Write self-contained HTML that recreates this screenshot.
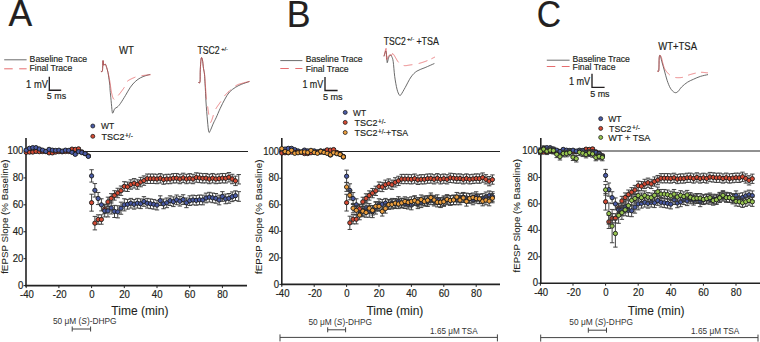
<!DOCTYPE html><html><head><meta charset="utf-8"><style>html,body{margin:0;padding:0;background:#fff;width:760px;height:342px;overflow:hidden}svg{display:block}text{font-family:"Liberation Sans",sans-serif;fill:#231f20;stroke:#231f20;stroke-width:0.18px}.tk{font-size:10.4px}</style></head><body>
<svg width="760" height="342" viewBox="0 0 760 342">
<text x="8.5" y="25.5" font-size="36" text-anchor="start" textLength="23.7" lengthAdjust="spacingAndGlyphs">A</text>
<text x="286.8" y="26.6" font-size="36" text-anchor="start" textLength="23.8" lengthAdjust="spacingAndGlyphs">B</text>
<text x="536.8" y="26.9" font-size="36" text-anchor="start" textLength="24.3" lengthAdjust="spacingAndGlyphs">C</text>
<line x1="4.2" y1="59.8" x2="26.6" y2="59.8" stroke="#454545" stroke-width="0.8"/>
<line x1="4.2" y1="68.8" x2="26.6" y2="68.8" stroke="#e0474a" stroke-width="0.8" stroke-dasharray="8.5 6.5"/>
<text x="29.6" y="61.5" font-size="9.8" text-anchor="start" textLength="57.5" lengthAdjust="spacingAndGlyphs">Baseline Trace</text>
<text x="29.6" y="70.7" font-size="9.8" text-anchor="start" textLength="42.6" lengthAdjust="spacingAndGlyphs">Final Trace</text>
<text x="26.1" y="87.8" font-size="10.2" text-anchor="start" textLength="21.8" lengthAdjust="spacingAndGlyphs">1 mV</text>
<path d="M49.3 76.8V90.2H61.2" stroke="#231f20" stroke-width="1.35" fill="none"/>
<text x="46.8" y="99.2" font-size="9.8" text-anchor="start" textLength="19.3" lengthAdjust="spacingAndGlyphs">5 ms</text>
<line x1="280.3" y1="60.6" x2="302.4" y2="60.6" stroke="#454545" stroke-width="0.8"/>
<line x1="280.3" y1="68.5" x2="302.4" y2="68.5" stroke="#e0474a" stroke-width="0.8" stroke-dasharray="8.5 6.5"/>
<text x="305.7" y="61.9" font-size="9.8" text-anchor="start" textLength="56.9" lengthAdjust="spacingAndGlyphs">Baseline Trace</text>
<text x="305.7" y="71.6" font-size="9.8" text-anchor="start" textLength="43" lengthAdjust="spacingAndGlyphs">Final Trace</text>
<text x="302.4" y="87.7" font-size="10.2" text-anchor="start" textLength="20.9" lengthAdjust="spacingAndGlyphs">1 mV</text>
<path d="M325 77V90.5H337.6" stroke="#231f20" stroke-width="1.35" fill="none"/>
<text x="322.9" y="99.8" font-size="9.8" text-anchor="start" textLength="19.7" lengthAdjust="spacingAndGlyphs">5 ms</text>
<line x1="546.8" y1="60.2" x2="569.6" y2="60.2" stroke="#454545" stroke-width="0.8"/>
<line x1="546.8" y1="66.5" x2="569.6" y2="66.5" stroke="#e0474a" stroke-width="0.8" stroke-dasharray="8.5 6.5"/>
<text x="572.6" y="61.7" font-size="9.8" text-anchor="start" textLength="57.3" lengthAdjust="spacingAndGlyphs">Baseline Trace</text>
<text x="572.6" y="70" font-size="9.8" text-anchor="start" textLength="42.9" lengthAdjust="spacingAndGlyphs">Final Trace</text>
<text x="568.9" y="84.8" font-size="10.2" text-anchor="start" textLength="21.3" lengthAdjust="spacingAndGlyphs">1 mV</text>
<path d="M592 73.8V87.3H604.6" stroke="#231f20" stroke-width="1.35" fill="none"/>
<text x="590.2" y="96.9" font-size="9.8" text-anchor="start" textLength="19.4" lengthAdjust="spacingAndGlyphs">5 ms</text>
<text x="119" y="54" font-size="10.4" text-anchor="start" textLength="14.9" lengthAdjust="spacingAndGlyphs">WT</text>
<text x="197.5" y="53.8" font-size="10.4" text-anchor="start" textLength="22.2" lengthAdjust="spacingAndGlyphs">TSC2</text>
<text x="221.3" y="50.5" font-size="5.5" text-anchor="start" textLength="6.7" lengthAdjust="spacingAndGlyphs">+/-</text>
<text x="383.8" y="44.7" font-size="10.4" text-anchor="start" textLength="21.9" lengthAdjust="spacingAndGlyphs">TSC2</text>
<text x="407" y="41.1" font-size="5.5" text-anchor="start" textLength="7.2" lengthAdjust="spacingAndGlyphs">+/-</text>
<text x="416.4" y="44.7" font-size="10.4" text-anchor="start" textLength="22.6" lengthAdjust="spacingAndGlyphs">+TSA</text>
<text x="658.3" y="49.5" font-size="10.4" text-anchor="start" textLength="38.7" lengthAdjust="spacingAndGlyphs">WT+TSA</text>
<path d="M100.90 71.20C101.15 71.13 102.05 72.55 102.40 70.80C102.75 69.05 102.80 61.65 103.00 60.70C103.20 59.75 103.22 64.52 103.60 65.10C103.98 65.68 104.80 63.83 105.30 64.20C105.80 64.57 106.15 65.92 106.60 67.30C107.05 68.68 107.63 70.75 108.00 72.50C108.37 74.25 108.52 75.88 108.80 77.80C109.08 79.72 109.48 81.93 109.70 84.00C109.92 86.07 109.87 87.45 110.10 90.20C110.33 92.95 110.75 96.92 111.10 100.50C111.45 104.08 111.88 109.65 112.20 111.70C112.52 113.75 112.58 113.30 113.00 112.80C113.42 112.30 113.98 109.65 114.70 108.70C115.42 107.75 116.35 107.97 117.30 107.10C118.25 106.23 119.03 105.45 120.40 103.50C121.77 101.55 123.83 98.12 125.50 95.40C127.17 92.68 128.75 89.53 130.40 87.20C132.05 84.87 133.72 82.97 135.40 81.40C137.08 79.83 138.80 78.75 140.50 77.80C142.20 76.85 143.98 76.27 145.60 75.70C147.22 75.13 149.43 74.62 150.20 74.40" stroke="#454545" stroke-width="0.8" fill="none"/>
<path d="M100.90 71.20 L100.93 71.20 L100.98 71.21 L101.02 71.24 L101.07 71.27 L101.13 71.31 L101.19 71.36 L101.25 71.40 L101.32 71.46 L101.39 71.51 L101.46 71.55 L101.54 71.60 L101.61 71.63 L101.69 71.66 L101.76 71.67 L101.84 71.68 L101.91 71.67 L101.98 71.64 L102.05 71.59 L102.12 71.52 L102.18 71.43 L102.25 71.32 L102.30 71.17 L102.35 71.00 L102.40 70.80 L102.44 70.55 L102.48 70.25 L102.52 69.90 L102.55 69.51 L102.58 69.08 L102.61 68.62 L102.64 68.13 L102.67 67.61 L102.69 67.09 L102.71 66.55 L102.74 66.00 L102.76 65.45 L102.78 64.91 L102.80 64.37 L102.81 63.85 L102.83 63.35 L102.85 62.88 L102.87 62.43 L102.89 62.02 L102.91 61.66 L102.93 61.33 L102.95 61.06 L102.98 60.85 L103.00 60.70 L103.02 60.61 L103.05 60.58 L103.07 60.59 L103.09 60.66 L103.11 60.76 L103.12 60.90 L103.14 61.08 L103.16 61.29 L103.18 61.52 L103.19 61.77 L103.21 62.04 L103.23 62.33 L103.25 62.61 L103.27 62.91 L103.29 63.20 L103.32 63.49 L103.34 63.77 L103.37 64.03 L103.40 64.28 L103.44 64.51 L103.47 64.70 L103.51 64.87 L103.55 65.01 L103.60 65.10 L103.65 65.16 L103.70 65.20 L103.76 65.21 L103.82 65.21 L103.89 65.19 L103.96 65.15 L104.03 65.10 L104.10 65.04 L104.17 64.97 L104.25 64.90 L104.33 64.82 L104.41 64.73 L104.49 64.65 L104.56 64.56 L104.64 64.48 L104.72 64.40 L104.80 64.33 L104.88 64.27 L104.95 64.22 L105.03 64.18 L105.10 64.16 L105.17 64.15 L105.24 64.17 L105.30 64.20 L105.36 64.25 L105.42 64.31 L105.48 64.38 L105.54 64.46 L105.60 64.55 L105.65 64.64 L105.71 64.75 L105.76 64.86 L105.81 64.98 L105.86 65.10 L105.92 65.23 L105.97 65.37 L106.02 65.51 L106.07 65.66 L106.12 65.81 L106.17 65.96 L106.23 66.12 L106.28 66.28 L106.33 66.45 L106.38 66.62 L106.44 66.78 L106.49 66.96 L106.54 67.13 L106.60 67.30 L106.66 67.47 L106.71 67.65 L106.77 67.83 L106.83 68.02 L106.88 68.21 L106.94 68.40 L106.99 68.59 L107.05 68.79 L107.11 69.00 L107.17 69.20 L107.22 69.41 L107.28 69.62 L107.34 69.84 L107.40 70.06 L107.46 70.29 L107.51 70.52 L107.57 70.75 L107.63 70.99 L107.69 71.23 L107.75 71.48 L107.81 71.73 L107.88 71.98 L107.94 72.24 L108.00 72.50 L108.06 72.76 L108.12 73.03 L108.19 73.29 L108.25 73.55 L108.31 73.81 L108.37 74.08 L108.44 74.34 L108.50 74.61 L108.56 74.89 L108.63 75.17 L108.69 75.45 L108.76 75.74 L108.82 76.04 L108.89 76.35 L108.95 76.66 L109.02 76.99 L109.09 77.32 L109.16 77.66 L109.23 78.02 L109.30 78.39 L109.37 78.77 L109.45 79.16 L109.52 79.57 L109.60 80.00 L109.68 80.45 L109.76 80.93 L109.84 81.43 L109.92 81.96 L110.00 82.52 L110.08 83.09 L110.16 83.67 L110.25 84.27 L110.33 84.88 L110.42 85.50 L110.51 86.12 L110.59 86.74 L110.68 87.36 L110.77 87.98 L110.86 88.58 L110.95 89.19 L111.04 89.77 L111.14 90.35 L111.23 90.90 L111.32 91.43 L111.41 91.94 L111.51 92.43 L111.60 92.88 L111.70 93.30 L111.80 93.70 L111.89 94.09 L111.98 94.48 L112.08 94.85 L112.17 95.21 L112.26 95.57 L112.35 95.91 L112.44 96.24 L112.54 96.56 L112.63 96.86 L112.73 97.15 L112.83 97.43 L112.92 97.69 L113.02 97.94 L113.13 98.17 L113.23 98.38 L113.34 98.58 L113.45 98.75 L113.57 98.91 L113.69 99.05 L113.81 99.17 L113.93 99.27 L114.06 99.35 L114.20 99.40M118.30 95.40 L118.52 95.14 L118.75 94.86 L118.99 94.56 L119.24 94.25 L119.50 93.92 L119.76 93.59 L120.03 93.24 L120.31 92.89 L120.59 92.53 L120.87 92.16 L121.15 91.79 L121.43 91.41 L121.71 91.04 L121.99 90.66 L122.27 90.28 L122.54 89.91 L122.80 89.54 L123.06 89.18 L123.31 88.82 L123.55 88.48 L123.78 88.14 L124.00 87.81 L124.21 87.50 L124.40 87.20M127.20 81.40 L127.44 81.19 L127.70 80.98 L127.98 80.77 L128.28 80.56 L128.59 80.36 L128.92 80.15 L129.26 79.95 L129.61 79.75 L129.97 79.55 L130.34 79.36 L130.71 79.16 L131.09 78.98 L131.48 78.79 L131.86 78.61 L132.24 78.43 L132.62 78.26 L133.00 78.10 L133.37 77.94 L133.74 77.78 L134.09 77.63 L134.44 77.49 L134.77 77.35 L135.09 77.22 L135.40 77.10M141.50 75.70 L141.83 75.65 L142.19 75.60 L142.56 75.55 L142.96 75.50 L143.37 75.45 L143.80 75.40 L144.23 75.35 L144.68 75.30 L145.13 75.25 L145.58 75.20 L146.03 75.16 L146.48 75.11 L146.93 75.07 L147.36 75.03 L147.79 74.98 L148.20 74.94 L148.60 74.91 L148.97 74.87 L149.33 74.84 L149.66 74.80 L149.97 74.77 L150.25 74.75 L150.49 74.72 L150.70 74.70" stroke="#e0474a" stroke-width="0.8" fill="none" stroke-linejoin="round" opacity="0.85"/>
<path d="M198.30 82.40C198.58 82.30 199.67 83.95 200.00 81.80C200.33 79.65 200.10 73.40 200.30 69.50C200.50 65.60 200.85 60.05 201.20 58.40C201.55 56.75 202.02 57.93 202.40 59.60C202.78 61.27 203.15 65.97 203.50 68.40C203.85 70.83 204.25 71.67 204.50 74.20C204.75 76.73 204.83 80.72 205.00 83.60C205.17 86.48 205.33 88.43 205.50 91.50C205.67 94.57 205.67 97.08 206.00 102.00C206.33 106.92 207.03 116.03 207.50 121.00C207.97 125.97 208.33 130.20 208.80 131.80C209.27 133.40 209.52 132.07 210.30 130.60C211.08 129.13 212.53 125.13 213.50 123.00C214.47 120.87 214.98 120.23 216.10 117.80C217.22 115.37 218.73 111.52 220.20 108.40C221.67 105.28 223.35 101.83 224.90 99.10C226.45 96.37 227.75 93.95 229.50 92.00C231.25 90.05 233.45 88.67 235.40 87.40C237.35 86.13 238.87 85.38 241.20 84.40C243.53 83.42 248.03 81.98 249.40 81.50" stroke="#454545" stroke-width="0.8" fill="none"/>
<path d="M198.30 82.40 L198.34 82.40 L198.39 82.41 L198.44 82.43 L198.50 82.47 L198.57 82.52 L198.64 82.57 L198.71 82.62 L198.79 82.68 L198.87 82.73 L198.96 82.78 L199.04 82.83 L199.13 82.87 L199.22 82.90 L199.30 82.91 L199.39 82.91 L199.47 82.89 L199.56 82.85 L199.63 82.79 L199.71 82.70 L199.78 82.58 L199.84 82.44 L199.90 82.26 L199.95 82.05 L200.00 81.80 L200.04 81.51 L200.07 81.18 L200.10 80.81 L200.12 80.41 L200.14 79.98 L200.16 79.52 L200.17 79.03 L200.18 78.52 L200.19 77.99 L200.19 77.44 L200.20 76.88 L200.20 76.31 L200.20 75.72 L200.20 75.13 L200.21 74.54 L200.21 73.94 L200.21 73.35 L200.22 72.76 L200.22 72.19 L200.23 71.62 L200.24 71.06 L200.26 70.52 L200.28 70.00 L200.30 69.50 L200.33 69.00 L200.35 68.49 L200.38 67.97 L200.41 67.44 L200.44 66.90 L200.48 66.35 L200.51 65.80 L200.54 65.26 L200.58 64.71 L200.62 64.17 L200.66 63.63 L200.69 63.11 L200.73 62.59 L200.77 62.09 L200.81 61.61 L200.86 61.14 L200.90 60.70 L200.94 60.28 L200.98 59.89 L201.03 59.52 L201.07 59.19 L201.11 58.89 L201.16 58.63 L201.20 58.40 L201.24 58.21 L201.29 58.05 L201.34 57.91 L201.38 57.80 L201.43 57.72 L201.48 57.66 L201.53 57.62 L201.58 57.61 L201.63 57.62 L201.68 57.64 L201.74 57.69 L201.79 57.76 L201.84 57.84 L201.89 57.94 L201.94 58.05 L202.00 58.18 L202.05 58.32 L202.10 58.48 L202.15 58.64 L202.20 58.82 L202.25 59.00 L202.30 59.19 L202.35 59.39 L202.40 59.60 L202.45 59.82 L202.50 60.08 L202.54 60.36 L202.59 60.66 L202.64 60.99 L202.68 61.34 L202.73 61.70 L202.78 62.08 L202.82 62.48 L202.87 62.88 L202.92 63.29 L202.96 63.71 L203.01 64.14 L203.05 64.56 L203.10 64.99 L203.14 65.41 L203.19 65.82 L203.23 66.23 L203.28 66.63 L203.32 67.02 L203.37 67.39 L203.41 67.75 L203.46 68.08 L203.50 68.40 L203.54 68.70 L203.59 68.98 L203.63 69.24 L203.67 69.50 L203.72 69.74 L203.76 69.98 L203.81 70.20 L203.85 70.42 L203.89 70.64 L203.93 70.85 L203.98 71.06 L204.02 71.26 L204.06 71.47 L204.10 71.68 L204.14 71.89 L204.19 72.11 L204.23 72.34 L204.27 72.57 L204.31 72.81 L204.35 73.06 L204.39 73.32 L204.42 73.60 L204.46 73.89 L204.50 74.20 L204.54 74.52 L204.57 74.84 L204.61 75.16 L204.64 75.48 L204.67 75.81 L204.71 76.15 L204.74 76.49 L204.77 76.83 L204.80 77.18 L204.83 77.54 L204.86 77.90 L204.89 78.27 L204.92 78.66 L204.96 79.05 L204.99 79.45 L205.02 79.86 L205.05 80.28 L205.08 80.72 L205.12 81.16 L205.15 81.62 L205.19 82.09 L205.22 82.58 L205.26 83.08 L205.30 83.60 L205.34 84.14 L205.38 84.72 L205.42 85.33 L205.46 85.96 L205.51 86.63 L205.55 87.31 L205.60 88.01 L205.64 88.72 L205.69 89.44 L205.73 90.18 L205.78 90.91 L205.83 91.65 L205.87 92.39 L205.92 93.12 L205.97 93.84 L206.01 94.55 L206.06 95.24 L206.11 95.92 L206.16 96.57 L206.21 97.20 L206.26 97.80 L206.30 98.37 L206.35 98.90 L206.40 99.40M207.60 106.40 L207.65 106.72 L207.70 107.04 L207.75 107.37 L207.80 107.70 L207.84 108.04 L207.89 108.38 L207.94 108.72 L207.99 109.07 L208.04 109.41 L208.08 109.76 L208.13 110.11 L208.18 110.46 L208.23 110.81 L208.28 111.17 L208.33 111.52 L208.38 111.87 L208.43 112.22 L208.48 112.56 L208.53 112.91 L208.58 113.25 L208.64 113.60 L208.69 113.93 L208.74 114.27 L208.80 114.60M210.30 122.20 L210.37 122.29 L210.43 122.36 L210.49 122.40 L210.55 122.42 L210.62 122.43 L210.68 122.41 L210.74 122.37 L210.80 122.31 L210.86 122.24 L210.92 122.15 L210.98 122.04 L211.04 121.92 L211.11 121.78 L211.18 121.63 L211.24 121.46 L211.31 121.29 L211.39 121.10 L211.46 120.89 L211.54 120.68 L211.63 120.46 L211.71 120.23 L211.81 120.00 L211.90 119.75 L212.00 119.50 L212.10 119.23 L212.21 118.94 L212.31 118.63 L212.42 118.29 L212.53 117.94 L212.65 117.57 L212.76 117.18 L212.88 116.78 L213.00 116.37 L213.12 115.95 L213.25 115.52 L213.38 115.08M215.77 108.91 L215.98 108.55 L216.20 108.19 L216.42 107.84 L216.65 107.48 L216.88 107.13 L217.11 106.78 L217.35 106.43 L217.59 106.09 L217.83 105.75 L218.07 105.41 L218.31 105.08 L218.55 104.75 L218.79 104.43 L219.02 104.11 L219.25 103.79 L219.48 103.48 L219.70 103.17 L219.91 102.87 L220.11 102.57 L220.31 102.28 L220.50 102.00 L220.68 101.72 L220.85 101.45M224.36 96.06 L224.54 95.84 L224.72 95.62 L224.90 95.41 L225.09 95.20 L225.28 94.98 L225.47 94.77 L225.66 94.56 L225.86 94.35 L226.05 94.14 L226.26 93.92 L226.46 93.71 L226.67 93.50 L226.88 93.29 L227.10 93.07 L227.32 92.86 L227.55 92.64 L227.78 92.42 L228.01 92.20 L228.25 91.98 L228.49 91.76 L228.74 91.53 L229.00 91.30 L229.26 91.06 L229.54 90.82 L229.82 90.57 L230.11 90.31 L230.41 90.05 L230.71 89.79M235.21 86.18 L235.52 85.97 L235.82 85.76 L236.11 85.58 L236.40 85.40 L236.68 85.24 L236.95 85.09 L237.22 84.95 L237.48 84.81 L237.74 84.69 L237.99 84.58 L238.24 84.48 L238.49 84.38 L238.74 84.29 L238.98 84.20 L239.23 84.12 L239.47 84.04 L239.71 83.97 L239.95 83.90 L240.20 83.83 L240.44 83.77 L240.69 83.70 L240.94 83.64 L241.19 83.57 L241.44 83.50 L241.70 83.43 L241.96 83.36 L242.23 83.28 L242.50 83.20 L242.78 83.12 L243.08 83.03 L243.39 82.94 L243.71 82.86 L244.04 82.77 L244.37 82.68 L244.71 82.59 L245.06 82.50 L245.40 82.42 L245.75 82.33 L246.09 82.25 L246.43 82.16 L246.77 82.08 L247.09 82.00 L247.41 81.93 L247.72 81.85 L248.02 81.78 L248.30 81.71 L248.57 81.65 L248.82 81.59 L249.05 81.54 L249.25 81.49 L249.44 81.44 L249.60 81.40" stroke="#e0474a" stroke-width="0.8" fill="none" stroke-linejoin="round" opacity="0.85"/>
<path d="M384.00 56.30C384.33 55.42 385.50 50.13 386.00 51.00C386.50 51.87 386.75 59.67 387.00 61.50C387.25 63.33 387.20 62.72 387.50 62.00C387.80 61.28 388.30 58.37 388.80 57.20C389.30 56.03 390.00 55.08 390.50 55.00C391.00 54.92 391.35 55.62 391.80 56.70C392.25 57.78 392.72 58.22 393.20 61.50C393.68 64.78 394.07 71.78 394.70 76.40C395.33 81.02 396.22 86.08 397.00 89.20C397.78 92.32 398.72 94.22 399.40 95.10C400.08 95.98 400.13 95.77 401.10 94.50C402.07 93.23 403.55 90.42 405.20 87.50C406.85 84.58 409.05 79.73 411.00 77.00C412.95 74.27 414.55 72.67 416.90 71.10C419.25 69.53 422.18 68.87 425.10 67.60C428.02 66.33 432.85 64.18 434.40 63.50" stroke="#454545" stroke-width="0.8" fill="none"/>
<path d="M384.00 56.30 L384.05 56.11 L384.10 55.87 L384.17 55.59 L384.24 55.28 L384.32 54.93 L384.40 54.55 L384.49 54.15 L384.58 53.73 L384.68 53.30 L384.78 52.86 L384.88 52.41 L384.98 51.97 L385.08 51.53 L385.19 51.10 L385.29 50.68 L385.39 50.29 L385.48 49.92 L385.57 49.58 L385.66 49.27 L385.74 49.00 L385.82 48.77 L385.89 48.59 L385.95 48.47 L386.00 48.40 L386.04 48.39 L386.08 48.42 L386.12 48.50 L386.15 48.62 L386.17 48.78 L386.19 48.97 L386.21 49.19 L386.22 49.44 L386.23 49.71 L386.24 50.01 L386.24 50.32 L386.24 50.65 L386.25 50.99 L386.25 51.33 L386.25 51.69 L386.25 52.04 L386.25 52.39 L386.25 52.73 L386.25 53.07 L386.26 53.39 L386.26 53.70 L386.27 53.99 L386.29 54.26 L386.30 54.50 L386.32 54.73 L386.33 54.98 L386.35 55.22 L386.36 55.48 L386.37 55.74 L386.39 56.00 L386.40 56.26 L386.41 56.52 L386.43 56.78 L386.44 57.03 L386.46 57.28 L386.48 57.52 L386.49 57.76 L386.51 57.99 L386.53 58.20 L386.55 58.40 L386.57 58.59 L386.60 58.77 L386.63 58.92 L386.66 59.06 L386.69 59.18 L386.72 59.28 L386.76 59.35 L386.80 59.40 L386.84 59.42 L386.89 59.42 L386.94 59.38 L386.99 59.33 L387.05 59.25 L387.10 59.15 L387.16 59.03 L387.23 58.89 L387.29 58.74 L387.35 58.58 L387.42 58.41 L387.49 58.24 L387.56 58.05 L387.62 57.87 L387.69 57.68 L387.76 57.50 L387.83 57.31 L387.90 57.14 L387.97 56.97 L388.04 56.81 L388.11 56.66 L388.17 56.52 L388.24 56.40 L388.30 56.30 L388.36 56.21 L388.42 56.12 L388.49 56.04 L388.55 55.96 L388.61 55.88 L388.67 55.81 L388.73 55.74 L388.80 55.67 L388.86 55.61 L388.92 55.54 L388.98 55.49 L389.04 55.43 L389.11 55.38 L389.17 55.33 L389.23 55.28 L389.29 55.24 L389.36 55.20 L389.42 55.16 L389.48 55.13 L389.54 55.10 L389.61 55.07 L389.67 55.04 L389.74 55.02 L389.80 55.00 L389.86 54.99 L389.93 54.98 L389.99 54.98 L390.06 54.99 L390.12 55.00 L390.19 55.02 L390.25 55.05 L390.32 55.07 L390.38 55.10 L390.45 55.14 L390.52 55.17 L390.58 55.21 L390.65 55.24 L390.71 55.27 L390.78 55.31 L390.85 55.34 L390.92 55.36 L390.98 55.39 L391.05 55.40 L391.12 55.42 L391.19 55.42 L391.26 55.42 L391.33 55.42 L391.40 55.40 L391.47 55.37 L391.53 55.32 L391.59 55.24 L391.65 55.16 L391.70 55.06 L391.75 54.95 L391.80 54.83 L391.85 54.70 L391.90 54.58 L391.95 54.45 L392.01 54.32 L392.06 54.20 L392.12 54.09 L392.18 53.98 L392.25 53.89 L392.33 53.81 L392.41 53.75 L392.49 53.70 L392.59 53.68 L392.69 53.69 L392.80 53.72 L392.92 53.78 L393.06 53.87 L393.20 54.00 L393.36 54.17 L393.52 54.37 L393.70 54.62 L393.90 54.89 L394.10 55.20 L394.30 55.54 L394.52 55.89 L394.74 56.27 L394.97 56.67 L395.21 57.07 L395.45 57.49 L395.69 57.92 L395.94 58.35 L396.19 58.78 L396.44 59.21 L396.69 59.63 L396.94 60.04 L397.19 60.44 L397.43 60.83 L397.68 61.19 L397.91 61.54 L398.15 61.85 L398.38 62.14 L398.60 62.40M403.70 65.50 L403.94 65.55 L404.18 65.59 L404.41 65.62 L404.65 65.64 L404.89 65.65 L405.13 65.65 L405.38 65.65 L405.62 65.64 L405.87 65.62 L406.12 65.60 L406.37 65.57 L406.62 65.54 L406.88 65.50 L407.14 65.46 L407.41 65.42 L407.68 65.37 L407.95 65.33 L408.23 65.28 L408.51 65.23 L408.80 65.18 L409.09 65.13 L409.39 65.09 L409.69 65.04 L410.00 65.00 L410.32 64.96 L410.64 64.91 L410.97 64.87 L411.31 64.82 L411.66 64.78 L412.01 64.73 L412.36 64.68M418.70 63.50 L419.06 63.41 L419.43 63.31 L419.80 63.21 L420.16 63.11 L420.53 63.00 L420.90 62.89 L421.27 62.78 L421.64 62.66 L422.01 62.55 L422.38 62.43 L422.75 62.30 L423.12 62.18 L423.49 62.06 L423.85 61.93 L424.22 61.80 L424.58 61.67 L424.94 61.54 L425.30 61.41 L425.66 61.27 L426.01 61.14 L426.37 61.01 L426.71 60.87 L427.06 60.74 L427.40 60.60M431.39 58.79 L431.74 58.62 L432.09 58.45 L432.43 58.28 L432.75 58.12 L433.07 57.96 L433.37 57.81 L433.66 57.66 L433.93 57.53 L434.19 57.40 L434.42 57.28 L434.64 57.18 L434.83 57.08 L435.00 57.00" stroke="#e0474a" stroke-width="0.8" fill="none" stroke-linejoin="round" opacity="0.85"/>
<path d="M657.30 71.00C657.55 70.90 658.48 72.58 658.80 70.40C659.12 68.22 658.97 60.38 659.20 57.90C659.43 55.42 659.75 54.85 660.20 55.50C660.65 56.15 661.18 59.22 661.90 61.80C662.62 64.38 663.63 67.92 664.50 71.00C665.37 74.08 666.12 77.43 667.10 80.30C668.08 83.17 669.18 86.18 670.40 88.20C671.62 90.22 673.18 91.80 674.40 92.40C675.62 93.00 676.48 92.72 677.70 91.80C678.92 90.88 680.07 88.50 681.70 86.90C683.33 85.30 685.55 83.47 687.50 82.20C689.45 80.93 691.25 80.27 693.40 79.30C695.55 78.33 697.97 77.18 700.40 76.40C702.83 75.62 706.73 74.90 708.00 74.60" stroke="#454545" stroke-width="0.8" fill="none"/>
<path d="M657.30 71.00 L657.33 71.00 L657.38 71.01 L657.42 71.04 L657.48 71.07 L657.53 71.12 L657.60 71.17 L657.66 71.23 L657.73 71.29 L657.80 71.34 L657.87 71.40 L657.95 71.44 L658.02 71.48 L658.10 71.51 L658.18 71.52 L658.25 71.52 L658.33 71.50 L658.40 71.46 L658.47 71.40 L658.53 71.31 L658.60 71.20 L658.65 71.05 L658.71 70.87 L658.76 70.65 L658.80 70.40 L658.84 70.10 L658.87 69.74 L658.90 69.34 L658.92 68.89 L658.94 68.40 L658.96 67.88 L658.98 67.32 L658.99 66.74 L659.00 66.14 L659.01 65.52 L659.02 64.90 L659.03 64.26 L659.04 63.63 L659.05 62.99 L659.05 62.37 L659.06 61.76 L659.07 61.17 L659.08 60.59 L659.10 60.05 L659.11 59.54 L659.13 59.06 L659.15 58.63 L659.17 58.24 L659.20 57.90 L659.23 57.60 L659.26 57.33 L659.29 57.08 L659.33 56.86 L659.36 56.66 L659.40 56.48 L659.44 56.32 L659.48 56.17 L659.52 56.05 L659.56 55.94 L659.60 55.85 L659.64 55.77 L659.69 55.70 L659.73 55.65 L659.78 55.60 L659.82 55.57 L659.87 55.54 L659.91 55.53 L659.96 55.51 L660.01 55.51 L660.06 55.50 L660.10 55.50 L660.15 55.50 L660.20 55.50 L660.25 55.50 L660.30 55.52 L660.35 55.54 L660.39 55.57 L660.44 55.61 L660.49 55.66 L660.55 55.72 L660.60 55.79 L660.65 55.86 L660.70 55.95 L660.75 56.04 L660.81 56.14 L660.86 56.24 L660.91 56.36 L660.97 56.48 L661.03 56.61 L661.08 56.75 L661.14 56.89 L661.20 57.04 L661.26 57.20 L661.32 57.37 L661.38 57.54 L661.44 57.72 L661.50 57.90 L661.56 58.10 L661.63 58.31 L661.69 58.53 L661.76 58.77 L661.82 59.02 L661.89 59.29 L661.96 59.56 L662.03 59.84 L662.10 60.13 L662.16 60.42 L662.24 60.72 L662.31 61.02 L662.38 61.33 L662.45 61.64 L662.52 61.94 L662.60 62.25 L662.67 62.55 L662.74 62.85 L662.82 63.14 L662.89 63.43 L662.97 63.71 L663.05 63.99 L663.12 64.25 L663.20 64.50 L663.28 64.74 L663.35 64.98 L663.42 65.22 L663.49 65.45 L663.55 65.67 L663.62 65.90 L663.68 66.12 L663.75 66.33 L663.81 66.55 L663.88 66.76 L663.95 66.97 L664.02 67.18 L664.09 67.39 L664.17 67.60 L664.25 67.80 L664.33 68.01 L664.42 68.22 L664.51 68.43 L664.61 68.63 L664.71 68.84 L664.82 69.05 L664.94 69.27 L665.07 69.48 L665.20 69.70 L665.34 69.92 L665.49 70.15 L665.64 70.38 L665.81 70.61 L665.97 70.85 L666.15 71.08 L666.32 71.32 L666.51 71.56 L666.70 71.80 L666.89 72.04 L667.08 72.28 L667.28 72.52 L667.48 72.75 L667.69 72.99 L667.89 73.21 L668.10 73.44 L668.31 73.66 L668.53 73.87 L668.74 74.08 L668.95 74.28 L669.16 74.47 L669.38 74.66 L669.59 74.83 L669.80 75.00M675.30 77.50 L675.58 77.54 L675.87 77.58 L676.17 77.62 L676.47 77.64 L676.79 77.67 L677.11 77.68 L677.44 77.70 L677.77 77.70 L678.10 77.71 L678.44 77.70 L678.78 77.70 L679.12 77.69 L679.46 77.67 L679.80 77.65 L680.13 77.63 L680.47 77.61 L680.80 77.58 L681.12 77.55 L681.44 77.51 L681.75 77.47 L682.05 77.43 L682.34 77.39 L682.63 77.35 L682.90 77.30M688.10 75.20 L688.37 75.11 L688.66 75.02 L688.95 74.93 L689.25 74.83 L689.57 74.74 L689.89 74.64 L690.21 74.55 L690.54 74.45 L690.88 74.36 L691.21 74.26 L691.55 74.16 L691.89 74.07 L692.23 73.98 L692.57 73.88 L692.91 73.79 L693.25 73.70 L693.58 73.62 L693.91 73.53 L694.23 73.45 L694.54 73.37 L694.84 73.30 L695.14 73.23 L695.43 73.16 L695.70 73.10M701.00 72.30 L701.26 72.30 L701.55 72.30 L701.84 72.31 L702.15 72.33 L702.47 72.34 L702.79 72.37 L703.13 72.39 L703.47 72.42 L703.81 72.45 L704.15 72.48 L704.49 72.52 L704.83 72.55 L705.17 72.59 L705.49 72.62 L705.81 72.66 L706.12 72.69 L706.42 72.73 L706.70 72.76 L706.97 72.79 L707.22 72.82 L707.45 72.84 L707.66 72.87 L707.84 72.89 L708.00 72.90" stroke="#e0474a" stroke-width="0.8" fill="none" stroke-linejoin="round" opacity="0.85"/>
<circle cx="92.8" cy="126" r="2.0" fill="#4a5ba6" stroke="#1a1a1a" stroke-width="0.75"/>
<text x="101" y="128.8" font-size="9.9" text-anchor="start" textLength="13.1" lengthAdjust="spacingAndGlyphs">WT</text>
<circle cx="92.8" cy="136.3" r="2.0" fill="#d44a33" stroke="#1a1a1a" stroke-width="0.75"/>
<text x="101.4" y="139.9" font-size="9.9" text-anchor="start" textLength="23" lengthAdjust="spacingAndGlyphs">TSC2</text>
<text x="125.1" y="137.9" font-size="6.6" text-anchor="start" textLength="7.7" lengthAdjust="spacingAndGlyphs">+/-</text>
<circle cx="345.2" cy="112.4" r="2.0" fill="#4a5ba6" stroke="#1a1a1a" stroke-width="0.75"/>
<text x="353.1" y="115.5" font-size="9.9" text-anchor="start" textLength="13" lengthAdjust="spacingAndGlyphs">WT</text>
<circle cx="345.2" cy="122.4" r="2.0" fill="#d44a33" stroke="#1a1a1a" stroke-width="0.75"/>
<text x="354.4" y="126" font-size="9.9" text-anchor="start" textLength="23" lengthAdjust="spacingAndGlyphs">TSC2</text>
<text x="378" y="124" font-size="6.6" text-anchor="start" textLength="7.6" lengthAdjust="spacingAndGlyphs">+/-</text>
<circle cx="345.2" cy="132.5" r="2.0" fill="#eb9d3c" stroke="#1a1a1a" stroke-width="0.75"/>
<text x="354.4" y="135.7" font-size="9.9" text-anchor="start" textLength="23" lengthAdjust="spacingAndGlyphs">TSC2</text>
<text x="378" y="133.7" font-size="6.6" text-anchor="start" textLength="7.6" lengthAdjust="spacingAndGlyphs">+/-</text>
<text x="386.1" y="135.7" font-size="9.9" text-anchor="start" textLength="22" lengthAdjust="spacingAndGlyphs">+TSA</text>
<circle cx="600.7" cy="118.7" r="2.0" fill="#4a5ba6" stroke="#1a1a1a" stroke-width="0.75"/>
<text x="608.3" y="121.8" font-size="9.9" text-anchor="start" textLength="13.3" lengthAdjust="spacingAndGlyphs">WT</text>
<circle cx="600.7" cy="128.4" r="2.0" fill="#d44a33" stroke="#1a1a1a" stroke-width="0.75"/>
<text x="609.1" y="131.7" font-size="9.9" text-anchor="start" textLength="22.3" lengthAdjust="spacingAndGlyphs">TSC2</text>
<text x="632" y="129.7" font-size="6.6" text-anchor="start" textLength="8" lengthAdjust="spacingAndGlyphs">+/-</text>
<circle cx="600.7" cy="137.4" r="2.0" fill="#97c550" stroke="#1a1a1a" stroke-width="0.75"/>
<text x="608.3" y="140.5" font-size="9.9" text-anchor="start" textLength="42.2" lengthAdjust="spacingAndGlyphs">WT + TSA</text>
<line x1="26.0" y1="151.5" x2="248" y2="151.5" stroke="#222" stroke-width="1"/>
<line x1="26.0" y1="138" x2="26.0" y2="286.40" stroke="#222" stroke-width="1.6"/>
<line x1="25.2" y1="285.60" x2="247" y2="285.60" stroke="#222" stroke-width="1.6"/>
<line x1="23.5" y1="285.60" x2="26.0" y2="285.60" stroke="#222" stroke-width="1"/>
<text x="23.4" y="288.70" class="tk" text-anchor="end" textLength="5.34" lengthAdjust="spacingAndGlyphs">0</text>
<line x1="23.5" y1="258.68" x2="26.0" y2="258.68" stroke="#222" stroke-width="1"/>
<text x="23.4" y="261.78" class="tk" text-anchor="end" textLength="10.68" lengthAdjust="spacingAndGlyphs">20</text>
<line x1="23.5" y1="231.76" x2="26.0" y2="231.76" stroke="#222" stroke-width="1"/>
<text x="23.4" y="234.86" class="tk" text-anchor="end" textLength="10.68" lengthAdjust="spacingAndGlyphs">40</text>
<line x1="23.5" y1="204.84" x2="26.0" y2="204.84" stroke="#222" stroke-width="1"/>
<text x="23.4" y="207.94" class="tk" text-anchor="end" textLength="10.68" lengthAdjust="spacingAndGlyphs">60</text>
<line x1="23.5" y1="177.92" x2="26.0" y2="177.92" stroke="#222" stroke-width="1"/>
<text x="23.4" y="181.02" class="tk" text-anchor="end" textLength="10.68" lengthAdjust="spacingAndGlyphs">80</text>
<line x1="23.5" y1="151.00" x2="26.0" y2="151.00" stroke="#222" stroke-width="1"/>
<text x="23.4" y="154.10" class="tk" text-anchor="end" textLength="16.01" lengthAdjust="spacingAndGlyphs">100</text>
<line x1="26.20" y1="285.6" x2="26.20" y2="288.10" stroke="#222" stroke-width="1"/>
<text x="27.00" y="297.90" class="tk" text-anchor="middle" textLength="13.87" lengthAdjust="spacingAndGlyphs">-40</text>
<line x1="58.90" y1="285.6" x2="58.90" y2="288.10" stroke="#222" stroke-width="1"/>
<text x="59.70" y="297.90" class="tk" text-anchor="middle" textLength="13.87" lengthAdjust="spacingAndGlyphs">-20</text>
<line x1="91.60" y1="285.6" x2="91.60" y2="288.10" stroke="#222" stroke-width="1"/>
<text x="91.80" y="297.90" class="tk" text-anchor="middle" textLength="5.34" lengthAdjust="spacingAndGlyphs">0</text>
<line x1="124.30" y1="285.6" x2="124.30" y2="288.10" stroke="#222" stroke-width="1"/>
<text x="124.50" y="297.90" class="tk" text-anchor="middle" textLength="10.68" lengthAdjust="spacingAndGlyphs">20</text>
<line x1="157.00" y1="285.6" x2="157.00" y2="288.10" stroke="#222" stroke-width="1"/>
<text x="157.20" y="297.90" class="tk" text-anchor="middle" textLength="10.68" lengthAdjust="spacingAndGlyphs">40</text>
<line x1="189.70" y1="285.6" x2="189.70" y2="288.10" stroke="#222" stroke-width="1"/>
<text x="189.90" y="297.90" class="tk" text-anchor="middle" textLength="10.68" lengthAdjust="spacingAndGlyphs">60</text>
<line x1="222.40" y1="285.6" x2="222.40" y2="288.10" stroke="#222" stroke-width="1"/>
<text x="222.60" y="297.90" class="tk" text-anchor="middle" textLength="10.68" lengthAdjust="spacingAndGlyphs">80</text>
<path d="M26.20 151.27V153.42M24.00 151.27h4.4M24.00 153.42h4.4M29.47 151.00V153.15M27.27 151.00h4.4M27.27 153.15h4.4M32.74 151.00V153.15M30.54 151.00h4.4M30.54 153.15h4.4M36.01 150.33V152.48M33.81 150.33h4.4M33.81 152.48h4.4M39.28 150.60V152.75M37.08 150.60h4.4M37.08 152.75h4.4M42.55 150.46V152.62M40.35 150.46h4.4M40.35 152.62h4.4M45.82 150.46V152.62M43.62 150.46h4.4M43.62 152.62h4.4M49.09 151.81V153.96M46.89 151.81h4.4M46.89 153.96h4.4M52.36 151.81V153.96M50.16 151.81h4.4M50.16 153.96h4.4M55.63 151.00V153.15M53.43 151.00h4.4M53.43 153.15h4.4M58.90 150.60V152.75M56.70 150.60h4.4M56.70 152.75h4.4M62.17 150.73V152.88M59.97 150.73h4.4M59.97 152.88h4.4M65.44 150.46V152.62M63.24 150.46h4.4M63.24 152.62h4.4M68.71 150.46V152.62M66.51 150.46h4.4M66.51 152.62h4.4M71.98 148.04V150.19M69.78 148.04h4.4M69.78 150.19h4.4M75.25 148.31V150.46M73.05 148.31h4.4M73.05 150.46h4.4M78.52 147.77V149.92M76.32 147.77h4.4M76.32 149.92h4.4M81.79 150.73V152.88M79.59 150.73h4.4M79.59 152.88h4.4M85.06 152.35V154.50M82.86 152.35h4.4M82.86 154.50h4.4M88.33 154.77V156.92M86.13 154.77h4.4M86.13 156.92h4.4M91.60 194.21V211.17M89.40 194.21h4.4M89.40 211.17h4.4M94.87 216.42V229.88M92.67 216.42h4.4M92.67 229.88h4.4M98.14 214.80V224.22M95.94 214.80h4.4M95.94 224.22h4.4M101.41 214.80V224.22M99.21 214.80h4.4M99.21 224.22h4.4M104.68 204.17V213.59M102.48 204.17h4.4M102.48 213.59h4.4M107.95 197.17V206.59M105.75 197.17h4.4M105.75 206.59h4.4M111.22 193.67V203.09M109.02 193.67h4.4M109.02 203.09h4.4M114.49 190.71V200.13M112.29 190.71h4.4M112.29 200.13h4.4M117.76 188.28V197.71M115.56 188.28h4.4M115.56 197.71h4.4M121.03 186.00V195.42M118.83 186.00h4.4M118.83 195.42h4.4M124.30 181.69V191.11M122.10 181.69h4.4M122.10 191.11h4.4M127.57 182.09V191.51M125.37 182.09h4.4M125.37 191.51h4.4M130.84 179.80V189.23M128.64 179.80h4.4M128.64 189.23h4.4M134.11 178.59V188.02M131.91 178.59h4.4M131.91 188.02h4.4M137.38 179.80V189.23M135.18 179.80h4.4M135.18 189.23h4.4M140.65 177.38V186.80M138.45 177.38h4.4M138.45 186.80h4.4M143.92 175.90V185.32M141.72 175.90h4.4M141.72 185.32h4.4M147.19 174.02V183.44M144.99 174.02h4.4M144.99 183.44h4.4M150.46 174.02V183.44M148.26 174.02h4.4M148.26 183.44h4.4M153.73 174.02V183.44M151.53 174.02h4.4M151.53 183.44h4.4M157.00 174.29V183.71M154.80 174.29h4.4M154.80 183.71h4.4M160.27 173.61V183.03M158.07 173.61h4.4M158.07 183.03h4.4M163.54 174.82V184.25M161.34 174.82h4.4M161.34 184.25h4.4M166.81 174.29V183.71M164.61 174.29h4.4M164.61 183.71h4.4M170.08 174.29V183.71M167.88 174.29h4.4M167.88 183.71h4.4M173.35 173.61V183.03M171.15 173.61h4.4M171.15 183.03h4.4M176.62 173.48V182.90M174.42 173.48h4.4M174.42 182.90h4.4M179.89 174.29V183.71M177.69 174.29h4.4M177.69 183.71h4.4M183.16 173.21V182.63M180.96 173.21h4.4M180.96 182.63h4.4M186.43 174.29V183.71M184.23 174.29h4.4M184.23 183.71h4.4M189.70 173.61V183.03M187.50 173.61h4.4M187.50 183.03h4.4M192.97 174.29V183.71M190.77 174.29h4.4M190.77 183.71h4.4M196.24 172.81V182.23M194.04 172.81h4.4M194.04 182.23h4.4M199.51 173.21V182.63M197.31 173.21h4.4M197.31 182.63h4.4M202.78 173.61V183.03M200.58 173.61h4.4M200.58 183.03h4.4M206.05 173.48V182.90M203.85 173.48h4.4M203.85 182.90h4.4M209.32 174.29V183.71M207.12 174.29h4.4M207.12 183.71h4.4M212.59 173.48V182.90M210.39 173.48h4.4M210.39 182.90h4.4M215.86 174.29V183.71M213.66 174.29h4.4M213.66 183.71h4.4M219.13 173.88V183.30M216.93 173.88h4.4M216.93 183.30h4.4M222.40 173.48V182.90M220.20 173.48h4.4M220.20 182.90h4.4M225.67 173.61V183.03M223.47 173.61h4.4M223.47 183.03h4.4M228.94 172.54V181.96M226.74 172.54h4.4M226.74 181.96h4.4M232.21 174.29V183.71M230.01 174.29h4.4M230.01 183.71h4.4M235.48 176.17V185.59M233.28 176.17h4.4M233.28 185.59h4.4M238.75 174.56V183.98M236.55 174.56h4.4M236.55 183.98h4.4" stroke="#3a3a3a" stroke-width="0.95" fill="none"/>
<g fill="#d44a33" stroke="#1a1a1a" stroke-width="0.9"><circle cx="26.20" cy="152.35" r="2.15"/><circle cx="29.47" cy="152.08" r="2.15"/><circle cx="32.74" cy="152.08" r="2.15"/><circle cx="36.01" cy="151.40" r="2.15"/><circle cx="39.28" cy="151.67" r="2.15"/><circle cx="42.55" cy="151.54" r="2.15"/><circle cx="45.82" cy="151.54" r="2.15"/><circle cx="49.09" cy="152.88" r="2.15"/><circle cx="52.36" cy="152.88" r="2.15"/><circle cx="55.63" cy="152.08" r="2.15"/><circle cx="58.90" cy="151.67" r="2.15"/><circle cx="62.17" cy="151.81" r="2.15"/><circle cx="65.44" cy="151.54" r="2.15"/><circle cx="68.71" cy="151.54" r="2.15"/><circle cx="71.98" cy="149.12" r="2.15"/><circle cx="75.25" cy="149.38" r="2.15"/><circle cx="78.52" cy="148.85" r="2.15"/><circle cx="81.79" cy="151.81" r="2.15"/><circle cx="85.06" cy="153.42" r="2.15"/><circle cx="88.33" cy="155.85" r="2.15"/><circle cx="91.60" cy="202.69" r="2.15"/><circle cx="94.87" cy="223.15" r="2.15"/><circle cx="98.14" cy="219.51" r="2.15"/><circle cx="101.41" cy="219.51" r="2.15"/><circle cx="104.68" cy="208.88" r="2.15"/><circle cx="107.95" cy="201.88" r="2.15"/><circle cx="111.22" cy="198.38" r="2.15"/><circle cx="114.49" cy="195.42" r="2.15"/><circle cx="117.76" cy="193.00" r="2.15"/><circle cx="121.03" cy="190.71" r="2.15"/><circle cx="124.30" cy="186.40" r="2.15"/><circle cx="127.57" cy="186.80" r="2.15"/><circle cx="130.84" cy="184.52" r="2.15"/><circle cx="134.11" cy="183.30" r="2.15"/><circle cx="137.38" cy="184.52" r="2.15"/><circle cx="140.65" cy="182.09" r="2.15"/><circle cx="143.92" cy="180.61" r="2.15"/><circle cx="147.19" cy="178.73" r="2.15"/><circle cx="150.46" cy="178.73" r="2.15"/><circle cx="153.73" cy="178.73" r="2.15"/><circle cx="157.00" cy="179.00" r="2.15"/><circle cx="160.27" cy="178.32" r="2.15"/><circle cx="163.54" cy="179.54" r="2.15"/><circle cx="166.81" cy="179.00" r="2.15"/><circle cx="170.08" cy="179.00" r="2.15"/><circle cx="173.35" cy="178.32" r="2.15"/><circle cx="176.62" cy="178.19" r="2.15"/><circle cx="179.89" cy="179.00" r="2.15"/><circle cx="183.16" cy="177.92" r="2.15"/><circle cx="186.43" cy="179.00" r="2.15"/><circle cx="189.70" cy="178.32" r="2.15"/><circle cx="192.97" cy="179.00" r="2.15"/><circle cx="196.24" cy="177.52" r="2.15"/><circle cx="199.51" cy="177.92" r="2.15"/><circle cx="202.78" cy="178.32" r="2.15"/><circle cx="206.05" cy="178.19" r="2.15"/><circle cx="209.32" cy="179.00" r="2.15"/><circle cx="212.59" cy="178.19" r="2.15"/><circle cx="215.86" cy="179.00" r="2.15"/><circle cx="219.13" cy="178.59" r="2.15"/><circle cx="222.40" cy="178.19" r="2.15"/><circle cx="225.67" cy="178.32" r="2.15"/><circle cx="228.94" cy="177.25" r="2.15"/><circle cx="232.21" cy="179.00" r="2.15"/><circle cx="235.48" cy="180.88" r="2.15"/></g>
<path d="M26.20 149.12V151.27M24.00 149.12h4.4M24.00 151.27h4.4M29.47 147.23V149.38M27.27 147.23h4.4M27.27 149.38h4.4M32.74 146.56V148.71M30.54 146.56h4.4M30.54 148.71h4.4M36.01 146.56V148.71M33.81 146.56h4.4M33.81 148.71h4.4M39.28 147.90V150.06M37.08 147.90h4.4M37.08 150.06h4.4M42.55 149.12V151.27M40.35 149.12h4.4M40.35 151.27h4.4M45.82 150.33V152.48M43.62 150.33h4.4M43.62 152.48h4.4M49.09 148.31V150.46M46.89 148.31h4.4M46.89 150.46h4.4M52.36 149.12V151.27M50.16 149.12h4.4M50.16 151.27h4.4M55.63 149.38V151.54M53.43 149.38h4.4M53.43 151.54h4.4M58.90 149.12V151.27M56.70 149.12h4.4M56.70 151.27h4.4M62.17 150.06V152.21M59.97 150.06h4.4M59.97 152.21h4.4M65.44 149.12V151.27M63.24 149.12h4.4M63.24 151.27h4.4M68.71 149.38V151.54M66.51 149.38h4.4M66.51 151.54h4.4M71.98 151.27V153.42M69.78 151.27h4.4M69.78 153.42h4.4M75.25 153.29V155.44M73.05 153.29h4.4M73.05 155.44h4.4M78.52 150.60V152.75M76.32 150.60h4.4M76.32 152.75h4.4M81.79 151.54V153.69M79.59 151.54h4.4M79.59 153.69h4.4M85.06 152.62V154.77M82.86 152.62h4.4M82.86 154.77h4.4M88.33 155.31V157.46M86.13 155.31h4.4M86.13 157.46h4.4M91.60 169.71V182.09M89.40 169.71h4.4M89.40 182.09h4.4M94.87 183.57V197.03M92.67 183.57h4.4M92.67 197.03h4.4M98.14 192.46V204.57M95.94 192.46h4.4M95.94 204.57h4.4M101.41 198.78V210.90M99.21 198.78h4.4M99.21 210.90h4.4M104.68 204.84V216.95M102.48 204.84h4.4M102.48 216.95h4.4M107.95 204.84V216.95M105.75 204.84h4.4M105.75 216.95h4.4M111.22 201.88V213.99M109.02 201.88h4.4M109.02 213.99h4.4M114.49 205.38V217.49M112.29 205.38h4.4M112.29 217.49h4.4M117.76 205.78V217.90M115.56 205.78h4.4M115.56 217.90h4.4M121.03 202.15V214.26M118.83 202.15h4.4M118.83 214.26h4.4M124.30 198.78V210.90M122.10 198.78h4.4M122.10 210.90h4.4M127.57 199.46V209.15M125.37 199.46h4.4M125.37 209.15h4.4M130.84 198.38V208.07M128.64 198.38h4.4M128.64 208.07h4.4M134.11 199.46V209.15M131.91 199.46h4.4M131.91 209.15h4.4M137.38 198.38V208.07M135.18 198.38h4.4M135.18 208.07h4.4M140.65 198.92V208.61M138.45 198.92h4.4M138.45 208.61h4.4M143.92 196.63V206.32M141.72 196.63h4.4M141.72 206.32h4.4M147.19 198.38V208.07M144.99 198.38h4.4M144.99 208.07h4.4M150.46 198.92V208.61M148.26 198.92h4.4M148.26 208.61h4.4M153.73 199.46V209.15M151.53 199.46h4.4M151.53 209.15h4.4M157.00 200.26V209.95M154.80 200.26h4.4M154.80 209.95h4.4M160.27 195.82V205.51M158.07 195.82h4.4M158.07 205.51h4.4M163.54 199.05V208.74M161.34 199.05h4.4M161.34 208.74h4.4M166.81 197.98V207.67M164.61 197.98h4.4M164.61 207.67h4.4M170.08 195.82V205.51M167.88 195.82h4.4M167.88 205.51h4.4M173.35 196.90V206.59M171.15 196.90h4.4M171.15 206.59h4.4M176.62 195.01V204.71M174.42 195.01h4.4M174.42 204.71h4.4M179.89 196.36V206.05M177.69 196.36h4.4M177.69 206.05h4.4M183.16 194.75V204.44M180.96 194.75h4.4M180.96 204.44h4.4M186.43 197.98V207.67M184.23 197.98h4.4M184.23 207.67h4.4M189.70 195.82V205.51M187.50 195.82h4.4M187.50 205.51h4.4M192.97 195.15V204.84M190.77 195.15h4.4M190.77 204.84h4.4M196.24 195.55V205.24M194.04 195.55h4.4M194.04 205.24h4.4M199.51 195.01V204.71M197.31 195.01h4.4M197.31 204.71h4.4M202.78 195.15V204.84M200.58 195.15h4.4M200.58 204.84h4.4M206.05 193.13V202.82M203.85 193.13h4.4M203.85 202.82h4.4M209.32 192.32V202.01M207.12 192.32h4.4M207.12 202.01h4.4M212.59 193.00V202.69M210.39 193.00h4.4M210.39 202.69h4.4M215.86 193.53V203.22M213.66 193.53h4.4M213.66 203.22h4.4M219.13 195.15V204.84M216.93 195.15h4.4M216.93 204.84h4.4M222.40 191.65V201.34M220.20 191.65h4.4M220.20 201.34h4.4M225.67 194.07V203.76M223.47 194.07h4.4M223.47 203.76h4.4M228.94 193.53V203.22M226.74 193.53h4.4M226.74 203.22h4.4M232.21 191.92V201.61M230.01 191.92h4.4M230.01 201.61h4.4M235.48 190.84V200.53M233.28 190.84h4.4M233.28 200.53h4.4M238.75 191.65V201.34M236.55 191.65h4.4M236.55 201.34h4.4" stroke="#3a3a3a" stroke-width="0.95" fill="none"/>
<g fill="#4a5ba6" stroke="#1a1a1a" stroke-width="0.9"><circle cx="26.20" cy="150.19" r="2.15"/><circle cx="29.47" cy="148.31" r="2.15"/><circle cx="32.74" cy="147.64" r="2.15"/><circle cx="36.01" cy="147.64" r="2.15"/><circle cx="39.28" cy="148.98" r="2.15"/><circle cx="42.55" cy="150.19" r="2.15"/><circle cx="45.82" cy="151.40" r="2.15"/><circle cx="49.09" cy="149.38" r="2.15"/><circle cx="52.36" cy="150.19" r="2.15"/><circle cx="55.63" cy="150.46" r="2.15"/><circle cx="58.90" cy="150.19" r="2.15"/><circle cx="62.17" cy="151.13" r="2.15"/><circle cx="65.44" cy="150.19" r="2.15"/><circle cx="68.71" cy="150.46" r="2.15"/><circle cx="71.98" cy="152.35" r="2.15"/><circle cx="75.25" cy="154.37" r="2.15"/><circle cx="78.52" cy="151.67" r="2.15"/><circle cx="81.79" cy="152.62" r="2.15"/><circle cx="85.06" cy="153.69" r="2.15"/><circle cx="88.33" cy="156.38" r="2.15"/><circle cx="91.60" cy="175.90" r="2.15"/><circle cx="94.87" cy="190.30" r="2.15"/><circle cx="98.14" cy="198.51" r="2.15"/><circle cx="101.41" cy="204.84" r="2.15"/><circle cx="104.68" cy="210.90" r="2.15"/><circle cx="107.95" cy="210.90" r="2.15"/><circle cx="111.22" cy="207.94" r="2.15"/><circle cx="114.49" cy="211.44" r="2.15"/><circle cx="117.76" cy="211.84" r="2.15"/><circle cx="121.03" cy="208.21" r="2.15"/><circle cx="124.30" cy="204.84" r="2.15"/><circle cx="127.57" cy="204.30" r="2.15"/><circle cx="130.84" cy="203.22" r="2.15"/><circle cx="134.11" cy="204.30" r="2.15"/><circle cx="137.38" cy="203.22" r="2.15"/><circle cx="140.65" cy="203.76" r="2.15"/><circle cx="143.92" cy="201.48" r="2.15"/><circle cx="147.19" cy="203.22" r="2.15"/><circle cx="150.46" cy="203.76" r="2.15"/><circle cx="153.73" cy="204.30" r="2.15"/><circle cx="157.00" cy="205.11" r="2.15"/><circle cx="160.27" cy="200.67" r="2.15"/><circle cx="163.54" cy="203.90" r="2.15"/><circle cx="166.81" cy="202.82" r="2.15"/><circle cx="170.08" cy="200.67" r="2.15"/><circle cx="173.35" cy="201.74" r="2.15"/><circle cx="176.62" cy="199.86" r="2.15"/><circle cx="179.89" cy="201.21" r="2.15"/><circle cx="183.16" cy="199.59" r="2.15"/><circle cx="186.43" cy="202.82" r="2.15"/><circle cx="189.70" cy="200.67" r="2.15"/><circle cx="192.97" cy="199.99" r="2.15"/><circle cx="196.24" cy="200.40" r="2.15"/><circle cx="199.51" cy="199.86" r="2.15"/><circle cx="202.78" cy="199.99" r="2.15"/><circle cx="206.05" cy="197.98" r="2.15"/><circle cx="209.32" cy="197.17" r="2.15"/><circle cx="212.59" cy="197.84" r="2.15"/><circle cx="215.86" cy="198.38" r="2.15"/><circle cx="219.13" cy="199.99" r="2.15"/><circle cx="222.40" cy="196.49" r="2.15"/><circle cx="225.67" cy="198.92" r="2.15"/><circle cx="228.94" cy="198.38" r="2.15"/><circle cx="232.21" cy="196.76" r="2.15"/><circle cx="235.48" cy="195.69" r="2.15"/></g>
<line x1="281.8" y1="151.5" x2="500" y2="151.5" stroke="#222" stroke-width="1"/>
<line x1="281.8" y1="138" x2="281.8" y2="285.20" stroke="#222" stroke-width="1.6"/>
<line x1="281.0" y1="284.40" x2="500" y2="284.40" stroke="#222" stroke-width="1.6"/>
<line x1="279.3" y1="284.40" x2="281.8" y2="284.40" stroke="#222" stroke-width="1"/>
<text x="279.2" y="287.50" class="tk" text-anchor="end" textLength="5.34" lengthAdjust="spacingAndGlyphs">0</text>
<line x1="279.3" y1="257.86" x2="281.8" y2="257.86" stroke="#222" stroke-width="1"/>
<text x="279.2" y="260.96" class="tk" text-anchor="end" textLength="10.68" lengthAdjust="spacingAndGlyphs">20</text>
<line x1="279.3" y1="231.32" x2="281.8" y2="231.32" stroke="#222" stroke-width="1"/>
<text x="279.2" y="234.42" class="tk" text-anchor="end" textLength="10.68" lengthAdjust="spacingAndGlyphs">40</text>
<line x1="279.3" y1="204.78" x2="281.8" y2="204.78" stroke="#222" stroke-width="1"/>
<text x="279.2" y="207.88" class="tk" text-anchor="end" textLength="10.68" lengthAdjust="spacingAndGlyphs">60</text>
<line x1="279.3" y1="178.24" x2="281.8" y2="178.24" stroke="#222" stroke-width="1"/>
<text x="279.2" y="181.34" class="tk" text-anchor="end" textLength="10.68" lengthAdjust="spacingAndGlyphs">80</text>
<line x1="279.3" y1="151.70" x2="281.8" y2="151.70" stroke="#222" stroke-width="1"/>
<text x="279.2" y="154.80" class="tk" text-anchor="end" textLength="16.01" lengthAdjust="spacingAndGlyphs">100</text>
<line x1="281.80" y1="284.4" x2="281.80" y2="286.90" stroke="#222" stroke-width="1"/>
<text x="282.60" y="296.70" class="tk" text-anchor="middle" textLength="13.87" lengthAdjust="spacingAndGlyphs">-40</text>
<line x1="314.20" y1="284.4" x2="314.20" y2="286.90" stroke="#222" stroke-width="1"/>
<text x="315.00" y="296.70" class="tk" text-anchor="middle" textLength="13.87" lengthAdjust="spacingAndGlyphs">-20</text>
<line x1="346.60" y1="284.4" x2="346.60" y2="286.90" stroke="#222" stroke-width="1"/>
<text x="346.80" y="296.70" class="tk" text-anchor="middle" textLength="5.34" lengthAdjust="spacingAndGlyphs">0</text>
<line x1="379.00" y1="284.4" x2="379.00" y2="286.90" stroke="#222" stroke-width="1"/>
<text x="379.20" y="296.70" class="tk" text-anchor="middle" textLength="10.68" lengthAdjust="spacingAndGlyphs">20</text>
<line x1="411.40" y1="284.4" x2="411.40" y2="286.90" stroke="#222" stroke-width="1"/>
<text x="411.60" y="296.70" class="tk" text-anchor="middle" textLength="10.68" lengthAdjust="spacingAndGlyphs">40</text>
<line x1="443.80" y1="284.4" x2="443.80" y2="286.90" stroke="#222" stroke-width="1"/>
<text x="444.00" y="296.70" class="tk" text-anchor="middle" textLength="10.68" lengthAdjust="spacingAndGlyphs">60</text>
<line x1="476.20" y1="284.4" x2="476.20" y2="286.90" stroke="#222" stroke-width="1"/>
<text x="476.40" y="296.70" class="tk" text-anchor="middle" textLength="10.68" lengthAdjust="spacingAndGlyphs">80</text>
<path d="M281.80 149.84V151.97M279.60 149.84h4.4M279.60 151.97h4.4M285.04 147.98V150.11M282.84 147.98h4.4M282.84 150.11h4.4M288.28 147.32V149.44M286.08 147.32h4.4M286.08 149.44h4.4M291.52 147.32V149.44M289.32 147.32h4.4M289.32 149.44h4.4M294.76 148.65V150.77M292.56 148.65h4.4M292.56 150.77h4.4M298.00 149.84V151.97M295.80 149.84h4.4M295.80 151.97h4.4M301.24 151.04V153.16M299.04 151.04h4.4M299.04 153.16h4.4M304.48 149.05V151.17M302.28 149.05h4.4M302.28 151.17h4.4M307.72 149.84V151.97M305.52 149.84h4.4M305.52 151.97h4.4M310.96 150.11V152.23M308.76 150.11h4.4M308.76 152.23h4.4M314.20 149.84V151.97M312.00 149.84h4.4M312.00 151.97h4.4M317.44 150.77V152.89M315.24 150.77h4.4M315.24 152.89h4.4M320.68 149.84V151.97M318.48 149.84h4.4M318.48 151.97h4.4M323.92 150.11V152.23M321.72 150.11h4.4M321.72 152.23h4.4M327.16 151.97V154.09M324.96 151.97h4.4M324.96 154.09h4.4M330.40 153.96V156.08M328.20 153.96h4.4M328.20 156.08h4.4M333.64 151.30V153.43M331.44 151.30h4.4M331.44 153.43h4.4M336.88 152.23V154.35M334.68 152.23h4.4M334.68 154.35h4.4M340.12 153.29V155.42M337.92 153.29h4.4M337.92 155.42h4.4M343.36 155.95V158.07M341.16 155.95h4.4M341.16 158.07h4.4M346.60 170.15V182.35M344.40 170.15h4.4M344.40 182.35h4.4M349.84 183.81V197.08M347.64 183.81h4.4M347.64 197.08h4.4M353.08 192.57V204.51M350.88 192.57h4.4M350.88 204.51h4.4M356.32 198.81V210.75M354.12 198.81h4.4M354.12 210.75h4.4M359.56 204.78V216.72M357.36 204.78h4.4M357.36 216.72h4.4M362.80 204.78V216.72M360.60 204.78h4.4M360.60 216.72h4.4M366.04 201.86V213.80M363.84 201.86h4.4M363.84 213.80h4.4M369.28 205.31V217.25M367.08 205.31h4.4M367.08 217.25h4.4M372.52 205.71V217.65M370.32 205.71h4.4M370.32 217.65h4.4M375.76 202.13V214.07M373.56 202.13h4.4M373.56 214.07h4.4M379.00 198.81V210.75M376.80 198.81h4.4M376.80 210.75h4.4M382.24 199.47V209.03M380.04 199.47h4.4M380.04 209.03h4.4M385.48 198.41V207.96M383.28 198.41h4.4M383.28 207.96h4.4M388.72 199.47V209.03M386.52 199.47h4.4M386.52 209.03h4.4M391.96 198.41V207.96M389.76 198.41h4.4M389.76 207.96h4.4M395.20 198.94V208.50M393.00 198.94h4.4M393.00 208.50h4.4M398.44 196.69V206.24M396.24 196.69h4.4M396.24 206.24h4.4M401.68 198.41V207.96M399.48 198.41h4.4M399.48 207.96h4.4M404.92 198.94V208.50M402.72 198.94h4.4M402.72 208.50h4.4M408.16 199.47V209.03M405.96 199.47h4.4M405.96 209.03h4.4M411.40 200.27V209.82M409.20 200.27h4.4M409.20 209.82h4.4M414.64 195.89V205.44M412.44 195.89h4.4M412.44 205.44h4.4M417.88 199.07V208.63M415.68 199.07h4.4M415.68 208.63h4.4M421.12 198.01V207.57M418.92 198.01h4.4M418.92 207.57h4.4M424.36 195.89V205.44M422.16 195.89h4.4M422.16 205.44h4.4M427.60 196.95V206.51M425.40 196.95h4.4M425.40 206.51h4.4M430.84 195.09V204.65M428.64 195.09h4.4M428.64 204.65h4.4M434.08 196.42V205.97M431.88 196.42h4.4M431.88 205.97h4.4M437.32 194.83V204.38M435.12 194.83h4.4M435.12 204.38h4.4M440.56 198.01V207.57M438.36 198.01h4.4M438.36 207.57h4.4M443.80 195.89V205.44M441.60 195.89h4.4M441.60 205.44h4.4M447.04 195.23V204.78M444.84 195.23h4.4M444.84 204.78h4.4M450.28 195.62V205.18M448.08 195.62h4.4M448.08 205.18h4.4M453.52 195.09V204.65M451.32 195.09h4.4M451.32 204.65h4.4M456.76 195.23V204.78M454.56 195.23h4.4M454.56 204.78h4.4M460.00 193.24V202.79M457.80 193.24h4.4M457.80 202.79h4.4M463.24 192.44V201.99M461.04 192.44h4.4M461.04 201.99h4.4M466.48 193.10V202.66M464.28 193.10h4.4M464.28 202.66h4.4M469.72 193.63V203.19M467.52 193.63h4.4M467.52 203.19h4.4M472.96 195.23V204.78M470.76 195.23h4.4M470.76 204.78h4.4M476.20 191.78V201.33M474.00 191.78h4.4M474.00 201.33h4.4M479.44 194.16V203.72M477.24 194.16h4.4M477.24 203.72h4.4M482.68 193.63V203.19M480.48 193.63h4.4M480.48 203.19h4.4M485.92 192.04V201.60M483.72 192.04h4.4M483.72 201.60h4.4M489.16 190.98V200.53M486.96 190.98h4.4M486.96 200.53h4.4M492.40 191.78V201.33M490.20 191.78h4.4M490.20 201.33h4.4" stroke="#3a3a3a" stroke-width="0.95" fill="none"/>
<g fill="#4a5ba6" stroke="#1a1a1a" stroke-width="0.9"><circle cx="281.80" cy="150.90" r="2.15"/><circle cx="285.04" cy="149.05" r="2.15"/><circle cx="288.28" cy="148.38" r="2.15"/><circle cx="291.52" cy="148.38" r="2.15"/><circle cx="294.76" cy="149.71" r="2.15"/><circle cx="298.00" cy="150.90" r="2.15"/><circle cx="301.24" cy="152.10" r="2.15"/><circle cx="304.48" cy="150.11" r="2.15"/><circle cx="307.72" cy="150.90" r="2.15"/><circle cx="310.96" cy="151.17" r="2.15"/><circle cx="314.20" cy="150.90" r="2.15"/><circle cx="317.44" cy="151.83" r="2.15"/><circle cx="320.68" cy="150.90" r="2.15"/><circle cx="323.92" cy="151.17" r="2.15"/><circle cx="327.16" cy="153.03" r="2.15"/><circle cx="330.40" cy="155.02" r="2.15"/><circle cx="333.64" cy="152.36" r="2.15"/><circle cx="336.88" cy="153.29" r="2.15"/><circle cx="340.12" cy="154.35" r="2.15"/><circle cx="343.36" cy="157.01" r="2.15"/><circle cx="346.60" cy="176.25" r="2.15"/><circle cx="349.84" cy="190.45" r="2.15"/><circle cx="353.08" cy="198.54" r="2.15"/><circle cx="356.32" cy="204.78" r="2.15"/><circle cx="359.56" cy="210.75" r="2.15"/><circle cx="362.80" cy="210.75" r="2.15"/><circle cx="366.04" cy="207.83" r="2.15"/><circle cx="369.28" cy="211.28" r="2.15"/><circle cx="372.52" cy="211.68" r="2.15"/><circle cx="375.76" cy="208.10" r="2.15"/><circle cx="379.00" cy="204.78" r="2.15"/><circle cx="382.24" cy="204.25" r="2.15"/><circle cx="385.48" cy="203.19" r="2.15"/><circle cx="388.72" cy="204.25" r="2.15"/><circle cx="391.96" cy="203.19" r="2.15"/><circle cx="395.20" cy="203.72" r="2.15"/><circle cx="398.44" cy="201.46" r="2.15"/><circle cx="401.68" cy="203.19" r="2.15"/><circle cx="404.92" cy="203.72" r="2.15"/><circle cx="408.16" cy="204.25" r="2.15"/><circle cx="411.40" cy="205.05" r="2.15"/><circle cx="414.64" cy="200.67" r="2.15"/><circle cx="417.88" cy="203.85" r="2.15"/><circle cx="421.12" cy="202.79" r="2.15"/><circle cx="424.36" cy="200.67" r="2.15"/><circle cx="427.60" cy="201.73" r="2.15"/><circle cx="430.84" cy="199.87" r="2.15"/><circle cx="434.08" cy="201.20" r="2.15"/><circle cx="437.32" cy="199.60" r="2.15"/><circle cx="440.56" cy="202.79" r="2.15"/><circle cx="443.80" cy="200.67" r="2.15"/><circle cx="447.04" cy="200.00" r="2.15"/><circle cx="450.28" cy="200.40" r="2.15"/><circle cx="453.52" cy="199.87" r="2.15"/><circle cx="456.76" cy="200.00" r="2.15"/><circle cx="460.00" cy="198.01" r="2.15"/><circle cx="463.24" cy="197.22" r="2.15"/><circle cx="466.48" cy="197.88" r="2.15"/><circle cx="469.72" cy="198.41" r="2.15"/><circle cx="472.96" cy="200.00" r="2.15"/><circle cx="476.20" cy="196.55" r="2.15"/><circle cx="479.44" cy="198.94" r="2.15"/><circle cx="482.68" cy="198.41" r="2.15"/><circle cx="485.92" cy="196.82" r="2.15"/><circle cx="489.16" cy="195.76" r="2.15"/><circle cx="492.40" cy="196.55" r="2.15"/></g>
<path d="M281.80 151.97V154.09M279.60 151.97h4.4M279.60 154.09h4.4M285.04 151.70V153.82M282.84 151.70h4.4M282.84 153.82h4.4M288.28 151.70V153.82M286.08 151.70h4.4M286.08 153.82h4.4M291.52 151.04V153.16M289.32 151.04h4.4M289.32 153.16h4.4M294.76 151.30V153.43M292.56 151.30h4.4M292.56 153.43h4.4M298.00 151.17V153.29M295.80 151.17h4.4M295.80 153.29h4.4M301.24 151.17V153.29M299.04 151.17h4.4M299.04 153.29h4.4M304.48 152.50V154.62M302.28 152.50h4.4M302.28 154.62h4.4M307.72 152.50V154.62M305.52 152.50h4.4M305.52 154.62h4.4M310.96 151.70V153.82M308.76 151.70h4.4M308.76 153.82h4.4M314.20 151.30V153.43M312.00 151.30h4.4M312.00 153.43h4.4M317.44 151.43V153.56M315.24 151.43h4.4M315.24 153.56h4.4M320.68 151.17V153.29M318.48 151.17h4.4M318.48 153.29h4.4M323.92 151.17V153.29M321.72 151.17h4.4M321.72 153.29h4.4M327.16 148.78V150.90M324.96 148.78h4.4M324.96 150.90h4.4M330.40 149.05V151.17M328.20 149.05h4.4M328.20 151.17h4.4M333.64 148.52V150.64M331.44 148.52h4.4M331.44 150.64h4.4M336.88 151.43V153.56M334.68 151.43h4.4M334.68 153.56h4.4M340.12 153.03V155.15M337.92 153.03h4.4M337.92 155.15h4.4M343.36 155.42V157.54M341.16 155.42h4.4M341.16 157.54h4.4M346.60 194.30V211.02M344.40 194.30h4.4M344.40 211.02h4.4M349.84 216.19V229.46M347.64 216.19h4.4M347.64 229.46h4.4M353.08 214.60V223.89M350.88 214.60h4.4M350.88 223.89h4.4M356.32 214.60V223.89M354.12 214.60h4.4M354.12 223.89h4.4M359.56 204.12V213.41M357.36 204.12h4.4M357.36 213.41h4.4M362.80 197.22V206.51M360.60 197.22h4.4M360.60 206.51h4.4M366.04 193.77V203.05M363.84 193.77h4.4M363.84 203.05h4.4M369.28 190.85V200.14M367.08 190.85h4.4M367.08 200.14h4.4M372.52 188.46V197.75M370.32 188.46h4.4M370.32 197.75h4.4M375.76 186.20V195.49M373.56 186.20h4.4M373.56 195.49h4.4M379.00 181.96V191.24M376.80 181.96h4.4M376.80 191.24h4.4M382.24 182.35V191.64M380.04 182.35h4.4M380.04 191.64h4.4M385.48 180.10V189.39M383.28 180.10h4.4M383.28 189.39h4.4M388.72 178.90V188.19M386.52 178.90h4.4M386.52 188.19h4.4M391.96 180.10V189.39M389.76 180.10h4.4M389.76 189.39h4.4M395.20 177.71V187.00M393.00 177.71h4.4M393.00 187.00h4.4M398.44 176.25V185.54M396.24 176.25h4.4M396.24 185.54h4.4M401.68 174.39V183.68M399.48 174.39h4.4M399.48 183.68h4.4M404.92 174.39V183.68M402.72 174.39h4.4M402.72 183.68h4.4M408.16 174.39V183.68M405.96 174.39h4.4M405.96 183.68h4.4M411.40 174.66V183.95M409.20 174.66h4.4M409.20 183.95h4.4M414.64 173.99V183.28M412.44 173.99h4.4M412.44 183.28h4.4M417.88 175.19V184.48M415.68 175.19h4.4M415.68 184.48h4.4M421.12 174.66V183.95M418.92 174.66h4.4M418.92 183.95h4.4M424.36 174.66V183.95M422.16 174.66h4.4M422.16 183.95h4.4M427.60 173.99V183.28M425.40 173.99h4.4M425.40 183.28h4.4M430.84 173.86V183.15M428.64 173.86h4.4M428.64 183.15h4.4M434.08 174.66V183.95M431.88 174.66h4.4M431.88 183.95h4.4M437.32 173.60V182.88M435.12 173.60h4.4M435.12 182.88h4.4M440.56 174.66V183.95M438.36 174.66h4.4M438.36 183.95h4.4M443.80 173.99V183.28M441.60 173.99h4.4M441.60 183.28h4.4M447.04 174.66V183.95M444.84 174.66h4.4M444.84 183.95h4.4M450.28 173.20V182.49M448.08 173.20h4.4M448.08 182.49h4.4M453.52 173.60V182.88M451.32 173.60h4.4M451.32 182.88h4.4M456.76 173.99V183.28M454.56 173.99h4.4M454.56 183.28h4.4M460.00 173.86V183.15M457.80 173.86h4.4M457.80 183.15h4.4M463.24 174.66V183.95M461.04 174.66h4.4M461.04 183.95h4.4M466.48 173.86V183.15M464.28 173.86h4.4M464.28 183.15h4.4M469.72 174.66V183.95M467.52 174.66h4.4M467.52 183.95h4.4M472.96 174.26V183.55M470.76 174.26h4.4M470.76 183.55h4.4M476.20 173.86V183.15M474.00 173.86h4.4M474.00 183.15h4.4M479.44 173.99V183.28M477.24 173.99h4.4M477.24 183.28h4.4M482.68 172.93V182.22M480.48 172.93h4.4M480.48 182.22h4.4M485.92 174.66V183.95M483.72 174.66h4.4M483.72 183.95h4.4M489.16 176.51V185.80M486.96 176.51h4.4M486.96 185.80h4.4M492.40 174.92V184.21M490.20 174.92h4.4M490.20 184.21h4.4" stroke="#3a3a3a" stroke-width="0.95" fill="none"/>
<g fill="#d44a33" stroke="#1a1a1a" stroke-width="0.9"><circle cx="281.80" cy="153.03" r="2.15"/><circle cx="285.04" cy="152.76" r="2.15"/><circle cx="288.28" cy="152.76" r="2.15"/><circle cx="291.52" cy="152.10" r="2.15"/><circle cx="294.76" cy="152.36" r="2.15"/><circle cx="298.00" cy="152.23" r="2.15"/><circle cx="301.24" cy="152.23" r="2.15"/><circle cx="304.48" cy="153.56" r="2.15"/><circle cx="307.72" cy="153.56" r="2.15"/><circle cx="310.96" cy="152.76" r="2.15"/><circle cx="314.20" cy="152.36" r="2.15"/><circle cx="317.44" cy="152.50" r="2.15"/><circle cx="320.68" cy="152.23" r="2.15"/><circle cx="323.92" cy="152.23" r="2.15"/><circle cx="327.16" cy="149.84" r="2.15"/><circle cx="330.40" cy="150.11" r="2.15"/><circle cx="333.64" cy="149.58" r="2.15"/><circle cx="336.88" cy="152.50" r="2.15"/><circle cx="340.12" cy="154.09" r="2.15"/><circle cx="343.36" cy="156.48" r="2.15"/><circle cx="346.60" cy="202.66" r="2.15"/><circle cx="349.84" cy="222.83" r="2.15"/><circle cx="353.08" cy="219.24" r="2.15"/><circle cx="356.32" cy="219.24" r="2.15"/><circle cx="359.56" cy="208.76" r="2.15"/><circle cx="362.80" cy="201.86" r="2.15"/><circle cx="366.04" cy="198.41" r="2.15"/><circle cx="369.28" cy="195.49" r="2.15"/><circle cx="372.52" cy="193.10" r="2.15"/><circle cx="375.76" cy="190.85" r="2.15"/><circle cx="379.00" cy="186.60" r="2.15"/><circle cx="382.24" cy="187.00" r="2.15"/><circle cx="385.48" cy="184.74" r="2.15"/><circle cx="388.72" cy="183.55" r="2.15"/><circle cx="391.96" cy="184.74" r="2.15"/><circle cx="395.20" cy="182.35" r="2.15"/><circle cx="398.44" cy="180.89" r="2.15"/><circle cx="401.68" cy="179.04" r="2.15"/><circle cx="404.92" cy="179.04" r="2.15"/><circle cx="408.16" cy="179.04" r="2.15"/><circle cx="411.40" cy="179.30" r="2.15"/><circle cx="414.64" cy="178.64" r="2.15"/><circle cx="417.88" cy="179.83" r="2.15"/><circle cx="421.12" cy="179.30" r="2.15"/><circle cx="424.36" cy="179.30" r="2.15"/><circle cx="427.60" cy="178.64" r="2.15"/><circle cx="430.84" cy="178.51" r="2.15"/><circle cx="434.08" cy="179.30" r="2.15"/><circle cx="437.32" cy="178.24" r="2.15"/><circle cx="440.56" cy="179.30" r="2.15"/><circle cx="443.80" cy="178.64" r="2.15"/><circle cx="447.04" cy="179.30" r="2.15"/><circle cx="450.28" cy="177.84" r="2.15"/><circle cx="453.52" cy="178.24" r="2.15"/><circle cx="456.76" cy="178.64" r="2.15"/><circle cx="460.00" cy="178.51" r="2.15"/><circle cx="463.24" cy="179.30" r="2.15"/><circle cx="466.48" cy="178.51" r="2.15"/><circle cx="469.72" cy="179.30" r="2.15"/><circle cx="472.96" cy="178.90" r="2.15"/><circle cx="476.20" cy="178.51" r="2.15"/><circle cx="479.44" cy="178.64" r="2.15"/><circle cx="482.68" cy="177.58" r="2.15"/><circle cx="485.92" cy="179.30" r="2.15"/><circle cx="489.16" cy="181.16" r="2.15"/><circle cx="492.40" cy="179.57" r="2.15"/></g>
<path d="M281.80 147.59V149.71M279.60 147.59h4.4M279.60 149.71h4.4M285.04 150.51V152.63M282.84 150.51h4.4M282.84 152.63h4.4M288.28 151.43V153.56M286.08 151.43h4.4M286.08 153.56h4.4M291.52 149.31V151.43M289.32 149.31h4.4M289.32 151.43h4.4M294.76 152.23V154.35M292.56 152.23h4.4M292.56 154.35h4.4M298.00 151.70V153.82M295.80 151.70h4.4M295.80 153.82h4.4M301.24 151.04V153.16M299.04 151.04h4.4M299.04 153.16h4.4M304.48 150.90V153.03M302.28 150.90h4.4M302.28 153.03h4.4M307.72 151.43V153.56M305.52 151.43h4.4M305.52 153.56h4.4M310.96 149.31V151.43M308.76 149.31h4.4M308.76 151.43h4.4M314.20 151.43V153.56M312.00 151.43h4.4M312.00 153.56h4.4M317.44 152.23V154.35M315.24 152.23h4.4M315.24 154.35h4.4M320.68 150.24V152.36M318.48 150.24h4.4M318.48 152.36h4.4M323.92 151.43V153.56M321.72 151.43h4.4M321.72 153.56h4.4M327.16 152.23V154.35M324.96 152.23h4.4M324.96 154.35h4.4M330.40 153.69V155.81M328.20 153.69h4.4M328.20 155.81h4.4M333.64 151.70V153.82M331.44 151.70h4.4M331.44 153.82h4.4M336.88 152.63V154.75M334.68 152.63h4.4M334.68 154.75h4.4M340.12 153.43V155.55M337.92 153.43h4.4M337.92 155.55h4.4M343.36 155.81V157.94M341.16 155.81h4.4M341.16 157.94h4.4M346.60 182.62V191.38M344.40 182.62h4.4M344.40 191.38h4.4M349.84 190.58V199.87M347.64 190.58h4.4M347.64 199.87h4.4M353.08 203.59V212.87M350.88 203.59h4.4M350.88 212.87h4.4M356.32 205.71V215.00M354.12 205.71h4.4M354.12 215.00h4.4M359.56 210.49V219.78M357.36 210.49h4.4M357.36 219.78h4.4M362.80 206.51V215.79M360.60 206.51h4.4M360.60 215.79h4.4M366.04 207.96V217.25M363.84 207.96h4.4M363.84 217.25h4.4M369.28 203.59V212.87M367.08 203.59h4.4M367.08 212.87h4.4M372.52 205.71V215.00M370.32 205.71h4.4M370.32 215.00h4.4M375.76 201.73V211.02M373.56 201.73h4.4M373.56 211.02h4.4M379.00 201.73V211.02M376.80 201.73h4.4M376.80 211.02h4.4M382.24 206.77V216.06M380.04 206.77h4.4M380.04 216.06h4.4M385.48 203.85V213.14M383.28 203.85h4.4M383.28 213.14h4.4M388.72 200.00V209.29M386.52 200.00h4.4M386.52 209.29h4.4M391.96 199.74V209.03M389.76 199.74h4.4M389.76 209.03h4.4M395.20 198.54V207.83M393.00 198.54h4.4M393.00 207.83h4.4M398.44 199.34V208.63M396.24 199.34h4.4M396.24 208.63h4.4M401.68 198.28V207.57M399.48 198.28h4.4M399.48 207.57h4.4M404.92 196.82V206.11M402.72 196.82h4.4M402.72 206.11h4.4M408.16 197.75V207.04M405.96 197.75h4.4M405.96 207.04h4.4M411.40 196.82V206.11M409.20 196.82h4.4M409.20 206.11h4.4M414.64 196.02V205.31M412.44 196.02h4.4M412.44 205.31h4.4M417.88 197.48V206.77M415.68 197.48h4.4M415.68 206.77h4.4M421.12 194.96V204.25M418.92 194.96h4.4M418.92 204.25h4.4M424.36 196.82V206.11M422.16 196.82h4.4M422.16 206.11h4.4M427.60 195.62V204.91M425.40 195.62h4.4M425.40 204.91h4.4M430.84 192.97V202.26M428.64 192.97h4.4M428.64 202.26h4.4M434.08 195.36V204.65M431.88 195.36h4.4M431.88 204.65h4.4M437.32 197.61V206.90M435.12 197.61h4.4M435.12 206.90h4.4M440.56 197.61V206.90M438.36 197.61h4.4M438.36 206.90h4.4M443.80 197.08V206.37M441.60 197.08h4.4M441.60 206.37h4.4M447.04 194.69V203.98M444.84 194.69h4.4M444.84 203.98h4.4M450.28 195.89V205.18M448.08 195.89h4.4M448.08 205.18h4.4M453.52 195.36V204.65M451.32 195.36h4.4M451.32 204.65h4.4M456.76 192.44V201.73M454.56 192.44h4.4M454.56 201.73h4.4M460.00 195.49V204.78M457.80 195.49h4.4M457.80 204.78h4.4M463.24 193.24V202.52M461.04 193.24h4.4M461.04 202.52h4.4M466.48 196.82V206.11M464.28 196.82h4.4M464.28 206.11h4.4M469.72 193.77V203.05M467.52 193.77h4.4M467.52 203.05h4.4M472.96 192.97V202.26M470.76 192.97h4.4M470.76 202.26h4.4M476.20 193.90V203.19M474.00 193.90h4.4M474.00 203.19h4.4M479.44 194.16V203.45M477.24 194.16h4.4M477.24 203.45h4.4M482.68 196.55V205.84M480.48 196.55h4.4M480.48 205.84h4.4M485.92 195.49V204.78M483.72 195.49h4.4M483.72 204.78h4.4M489.16 196.55V205.84M486.96 196.55h4.4M486.96 205.84h4.4M492.40 193.50V202.79M490.20 193.50h4.4M490.20 202.79h4.4" stroke="#3a3a3a" stroke-width="0.95" fill="none"/>
<g fill="#eb9d3c" stroke="#1a1a1a" stroke-width="0.9"><circle cx="281.80" cy="148.65" r="2.15"/><circle cx="285.04" cy="151.57" r="2.15"/><circle cx="288.28" cy="152.50" r="2.15"/><circle cx="291.52" cy="150.37" r="2.15"/><circle cx="294.76" cy="153.29" r="2.15"/><circle cx="298.00" cy="152.76" r="2.15"/><circle cx="301.24" cy="152.10" r="2.15"/><circle cx="304.48" cy="151.97" r="2.15"/><circle cx="307.72" cy="152.50" r="2.15"/><circle cx="310.96" cy="150.37" r="2.15"/><circle cx="314.20" cy="152.50" r="2.15"/><circle cx="317.44" cy="153.29" r="2.15"/><circle cx="320.68" cy="151.30" r="2.15"/><circle cx="323.92" cy="152.50" r="2.15"/><circle cx="327.16" cy="153.29" r="2.15"/><circle cx="330.40" cy="154.75" r="2.15"/><circle cx="333.64" cy="152.76" r="2.15"/><circle cx="336.88" cy="153.69" r="2.15"/><circle cx="340.12" cy="154.49" r="2.15"/><circle cx="343.36" cy="156.88" r="2.15"/><circle cx="346.60" cy="187.00" r="2.15"/><circle cx="349.84" cy="195.23" r="2.15"/><circle cx="353.08" cy="208.23" r="2.15"/><circle cx="356.32" cy="210.35" r="2.15"/><circle cx="359.56" cy="215.13" r="2.15"/><circle cx="362.80" cy="211.15" r="2.15"/><circle cx="366.04" cy="212.61" r="2.15"/><circle cx="369.28" cy="208.23" r="2.15"/><circle cx="372.52" cy="210.35" r="2.15"/><circle cx="375.76" cy="206.37" r="2.15"/><circle cx="379.00" cy="206.37" r="2.15"/><circle cx="382.24" cy="211.41" r="2.15"/><circle cx="385.48" cy="208.50" r="2.15"/><circle cx="388.72" cy="204.65" r="2.15"/><circle cx="391.96" cy="204.38" r="2.15"/><circle cx="395.20" cy="203.19" r="2.15"/><circle cx="398.44" cy="203.98" r="2.15"/><circle cx="401.68" cy="202.92" r="2.15"/><circle cx="404.92" cy="201.46" r="2.15"/><circle cx="408.16" cy="202.39" r="2.15"/><circle cx="411.40" cy="201.46" r="2.15"/><circle cx="414.64" cy="200.67" r="2.15"/><circle cx="417.88" cy="202.13" r="2.15"/><circle cx="421.12" cy="199.60" r="2.15"/><circle cx="424.36" cy="201.46" r="2.15"/><circle cx="427.60" cy="200.27" r="2.15"/><circle cx="430.84" cy="197.61" r="2.15"/><circle cx="434.08" cy="200.00" r="2.15"/><circle cx="437.32" cy="202.26" r="2.15"/><circle cx="440.56" cy="202.26" r="2.15"/><circle cx="443.80" cy="201.73" r="2.15"/><circle cx="447.04" cy="199.34" r="2.15"/><circle cx="450.28" cy="200.53" r="2.15"/><circle cx="453.52" cy="200.00" r="2.15"/><circle cx="456.76" cy="197.08" r="2.15"/><circle cx="460.00" cy="200.14" r="2.15"/><circle cx="463.24" cy="197.88" r="2.15"/><circle cx="466.48" cy="201.46" r="2.15"/><circle cx="469.72" cy="198.41" r="2.15"/><circle cx="472.96" cy="197.61" r="2.15"/><circle cx="476.20" cy="198.54" r="2.15"/><circle cx="479.44" cy="198.81" r="2.15"/><circle cx="482.68" cy="201.20" r="2.15"/><circle cx="485.92" cy="200.14" r="2.15"/><circle cx="489.16" cy="201.20" r="2.15"/><circle cx="492.40" cy="198.14" r="2.15"/></g>
<line x1="540.8" y1="151.0" x2="760" y2="151.0" stroke="#222" stroke-width="1"/>
<line x1="540.8" y1="138" x2="540.8" y2="284.00" stroke="#222" stroke-width="1.6"/>
<line x1="540.0" y1="283.20" x2="760" y2="283.20" stroke="#222" stroke-width="1.6"/>
<line x1="538.3" y1="283.20" x2="540.8" y2="283.20" stroke="#222" stroke-width="1"/>
<text x="538.1999999999999" y="286.30" class="tk" text-anchor="end" textLength="5.34" lengthAdjust="spacingAndGlyphs">0</text>
<line x1="538.3" y1="256.76" x2="540.8" y2="256.76" stroke="#222" stroke-width="1"/>
<text x="538.1999999999999" y="259.86" class="tk" text-anchor="end" textLength="10.68" lengthAdjust="spacingAndGlyphs">20</text>
<line x1="538.3" y1="230.32" x2="540.8" y2="230.32" stroke="#222" stroke-width="1"/>
<text x="538.1999999999999" y="233.42" class="tk" text-anchor="end" textLength="10.68" lengthAdjust="spacingAndGlyphs">40</text>
<line x1="538.3" y1="203.88" x2="540.8" y2="203.88" stroke="#222" stroke-width="1"/>
<text x="538.1999999999999" y="206.98" class="tk" text-anchor="end" textLength="10.68" lengthAdjust="spacingAndGlyphs">60</text>
<line x1="538.3" y1="177.44" x2="540.8" y2="177.44" stroke="#222" stroke-width="1"/>
<text x="538.1999999999999" y="180.54" class="tk" text-anchor="end" textLength="10.68" lengthAdjust="spacingAndGlyphs">80</text>
<line x1="538.3" y1="151.00" x2="540.8" y2="151.00" stroke="#222" stroke-width="1"/>
<text x="538.1999999999999" y="154.10" class="tk" text-anchor="end" textLength="16.01" lengthAdjust="spacingAndGlyphs">100</text>
<line x1="540.40" y1="283.2" x2="540.40" y2="285.70" stroke="#222" stroke-width="1"/>
<text x="541.20" y="295.50" class="tk" text-anchor="middle" textLength="13.87" lengthAdjust="spacingAndGlyphs">-40</text>
<line x1="573.00" y1="283.2" x2="573.00" y2="285.70" stroke="#222" stroke-width="1"/>
<text x="573.80" y="295.50" class="tk" text-anchor="middle" textLength="13.87" lengthAdjust="spacingAndGlyphs">-20</text>
<line x1="605.60" y1="283.2" x2="605.60" y2="285.70" stroke="#222" stroke-width="1"/>
<text x="605.80" y="295.50" class="tk" text-anchor="middle" textLength="5.34" lengthAdjust="spacingAndGlyphs">0</text>
<line x1="638.20" y1="283.2" x2="638.20" y2="285.70" stroke="#222" stroke-width="1"/>
<text x="638.40" y="295.50" class="tk" text-anchor="middle" textLength="10.68" lengthAdjust="spacingAndGlyphs">20</text>
<line x1="670.80" y1="283.2" x2="670.80" y2="285.70" stroke="#222" stroke-width="1"/>
<text x="671.00" y="295.50" class="tk" text-anchor="middle" textLength="10.68" lengthAdjust="spacingAndGlyphs">40</text>
<line x1="703.40" y1="283.2" x2="703.40" y2="285.70" stroke="#222" stroke-width="1"/>
<text x="703.60" y="295.50" class="tk" text-anchor="middle" textLength="10.68" lengthAdjust="spacingAndGlyphs">60</text>
<line x1="736.00" y1="283.2" x2="736.00" y2="285.70" stroke="#222" stroke-width="1"/>
<text x="736.20" y="295.50" class="tk" text-anchor="middle" textLength="10.68" lengthAdjust="spacingAndGlyphs">80</text>
<path d="M540.40 151.26V153.38M538.20 151.26h4.4M538.20 153.38h4.4M543.66 151.00V153.12M541.46 151.00h4.4M541.46 153.12h4.4M546.92 151.00V153.12M544.72 151.00h4.4M544.72 153.12h4.4M550.18 150.34V152.45M547.98 150.34h4.4M547.98 152.45h4.4M553.44 150.60V152.72M551.24 150.60h4.4M551.24 152.72h4.4M556.70 150.47V152.59M554.50 150.47h4.4M554.50 152.59h4.4M559.96 150.47V152.59M557.76 150.47h4.4M557.76 152.59h4.4M563.22 151.79V153.91M561.02 151.79h4.4M561.02 153.91h4.4M566.48 151.79V153.91M564.28 151.79h4.4M564.28 153.91h4.4M569.74 151.00V153.12M567.54 151.00h4.4M567.54 153.12h4.4M573.00 150.60V152.72M570.80 150.60h4.4M570.80 152.72h4.4M576.26 150.74V152.85M574.06 150.74h4.4M574.06 152.85h4.4M579.52 150.47V152.59M577.32 150.47h4.4M577.32 152.59h4.4M582.78 150.47V152.59M580.58 150.47h4.4M580.58 152.59h4.4M586.04 148.09V150.21M583.84 148.09h4.4M583.84 150.21h4.4M589.30 148.36V150.47M587.10 148.36h4.4M587.10 150.47h4.4M592.56 147.83V149.94M590.36 147.83h4.4M590.36 149.94h4.4M595.82 150.74V152.85M593.62 150.74h4.4M593.62 152.85h4.4M599.08 152.32V154.44M596.88 152.32h4.4M596.88 154.44h4.4M602.34 154.70V156.82M600.14 154.70h4.4M600.14 156.82h4.4M605.60 193.44V210.09M603.40 193.44h4.4M603.40 210.09h4.4M608.86 215.25V228.47M606.66 215.25h4.4M606.66 228.47h4.4M612.12 213.66V222.92M609.92 213.66h4.4M609.92 222.92h4.4M615.38 213.66V222.92M613.18 213.66h4.4M613.18 222.92h4.4M618.64 203.22V212.47M616.44 203.22h4.4M616.44 212.47h4.4M621.90 196.34V205.60M619.70 196.34h4.4M619.70 205.60h4.4M625.16 192.91V202.16M622.96 192.91h4.4M622.96 202.16h4.4M628.42 190.00V199.25M626.22 190.00h4.4M626.22 199.25h4.4M631.68 187.62V196.87M629.48 187.62h4.4M629.48 196.87h4.4M634.94 185.37V194.63M632.74 185.37h4.4M632.74 194.63h4.4M638.20 181.14V190.40M636.00 181.14h4.4M636.00 190.40h4.4M641.46 181.54V190.79M639.26 181.54h4.4M639.26 190.79h4.4M644.72 179.29V188.54M642.52 179.29h4.4M642.52 188.54h4.4M647.98 178.10V187.35M645.78 178.10h4.4M645.78 187.35h4.4M651.24 179.29V188.54M649.04 179.29h4.4M649.04 188.54h4.4M654.50 176.91V186.17M652.30 176.91h4.4M652.30 186.17h4.4M657.76 175.46V184.71M655.56 175.46h4.4M655.56 184.71h4.4M661.02 173.61V182.86M658.82 173.61h4.4M658.82 182.86h4.4M664.28 173.61V182.86M662.08 173.61h4.4M662.08 182.86h4.4M667.54 173.61V182.86M665.34 173.61h4.4M665.34 182.86h4.4M670.80 173.87V183.12M668.60 173.87h4.4M668.60 183.12h4.4M674.06 173.21V182.46M671.86 173.21h4.4M671.86 182.46h4.4M677.32 174.40V183.65M675.12 174.40h4.4M675.12 183.65h4.4M680.58 173.87V183.12M678.38 173.87h4.4M678.38 183.12h4.4M683.84 173.87V183.12M681.64 173.87h4.4M681.64 183.12h4.4M687.10 173.21V182.46M684.90 173.21h4.4M684.90 182.46h4.4M690.36 173.08V182.33M688.16 173.08h4.4M688.16 182.33h4.4M693.62 173.87V183.12M691.42 173.87h4.4M691.42 183.12h4.4M696.88 172.81V182.07M694.68 172.81h4.4M694.68 182.07h4.4M700.14 173.87V183.12M697.94 173.87h4.4M697.94 183.12h4.4M703.40 173.21V182.46M701.20 173.21h4.4M701.20 182.46h4.4M706.66 173.87V183.12M704.46 173.87h4.4M704.46 183.12h4.4M709.92 172.42V181.67M707.72 172.42h4.4M707.72 181.67h4.4M713.18 172.81V182.07M710.98 172.81h4.4M710.98 182.07h4.4M716.44 173.21V182.46M714.24 173.21h4.4M714.24 182.46h4.4M719.70 173.08V182.33M717.50 173.08h4.4M717.50 182.33h4.4M722.96 173.87V183.12M720.76 173.87h4.4M720.76 183.12h4.4M726.22 173.08V182.33M724.02 173.08h4.4M724.02 182.33h4.4M729.48 173.87V183.12M727.28 173.87h4.4M727.28 183.12h4.4M732.74 173.47V182.73M730.54 173.47h4.4M730.54 182.73h4.4M736.00 173.08V182.33M733.80 173.08h4.4M733.80 182.33h4.4M739.26 173.21V182.46M737.06 173.21h4.4M737.06 182.46h4.4M742.52 172.15V181.41M740.32 172.15h4.4M740.32 181.41h4.4M745.78 173.87V183.12M743.58 173.87h4.4M743.58 183.12h4.4M749.04 175.72V184.98M746.84 175.72h4.4M746.84 184.98h4.4M752.30 174.13V183.39M750.10 174.13h4.4M750.10 183.39h4.4" stroke="#3a3a3a" stroke-width="0.95" fill="none"/>
<g fill="#d44a33" stroke="#1a1a1a" stroke-width="0.9"><circle cx="540.40" cy="152.32" r="2.15"/><circle cx="543.66" cy="152.06" r="2.15"/><circle cx="546.92" cy="152.06" r="2.15"/><circle cx="550.18" cy="151.40" r="2.15"/><circle cx="553.44" cy="151.66" r="2.15"/><circle cx="556.70" cy="151.53" r="2.15"/><circle cx="559.96" cy="151.53" r="2.15"/><circle cx="563.22" cy="152.85" r="2.15"/><circle cx="566.48" cy="152.85" r="2.15"/><circle cx="569.74" cy="152.06" r="2.15"/><circle cx="573.00" cy="151.66" r="2.15"/><circle cx="576.26" cy="151.79" r="2.15"/><circle cx="579.52" cy="151.53" r="2.15"/><circle cx="582.78" cy="151.53" r="2.15"/><circle cx="586.04" cy="149.15" r="2.15"/><circle cx="589.30" cy="149.41" r="2.15"/><circle cx="592.56" cy="148.88" r="2.15"/><circle cx="595.82" cy="151.79" r="2.15"/><circle cx="599.08" cy="153.38" r="2.15"/><circle cx="602.34" cy="155.76" r="2.15"/><circle cx="605.60" cy="201.76" r="2.15"/><circle cx="608.86" cy="221.86" r="2.15"/><circle cx="612.12" cy="218.29" r="2.15"/><circle cx="615.38" cy="218.29" r="2.15"/><circle cx="618.64" cy="207.85" r="2.15"/><circle cx="621.90" cy="200.97" r="2.15"/><circle cx="625.16" cy="197.53" r="2.15"/><circle cx="628.42" cy="194.63" r="2.15"/><circle cx="631.68" cy="192.25" r="2.15"/><circle cx="634.94" cy="190.00" r="2.15"/><circle cx="638.20" cy="185.77" r="2.15"/><circle cx="641.46" cy="186.17" r="2.15"/><circle cx="644.72" cy="183.92" r="2.15"/><circle cx="647.98" cy="182.73" r="2.15"/><circle cx="651.24" cy="183.92" r="2.15"/><circle cx="654.50" cy="181.54" r="2.15"/><circle cx="657.76" cy="180.08" r="2.15"/><circle cx="661.02" cy="178.23" r="2.15"/><circle cx="664.28" cy="178.23" r="2.15"/><circle cx="667.54" cy="178.23" r="2.15"/><circle cx="670.80" cy="178.50" r="2.15"/><circle cx="674.06" cy="177.84" r="2.15"/><circle cx="677.32" cy="179.03" r="2.15"/><circle cx="680.58" cy="178.50" r="2.15"/><circle cx="683.84" cy="178.50" r="2.15"/><circle cx="687.10" cy="177.84" r="2.15"/><circle cx="690.36" cy="177.70" r="2.15"/><circle cx="693.62" cy="178.50" r="2.15"/><circle cx="696.88" cy="177.44" r="2.15"/><circle cx="700.14" cy="178.50" r="2.15"/><circle cx="703.40" cy="177.84" r="2.15"/><circle cx="706.66" cy="178.50" r="2.15"/><circle cx="709.92" cy="177.04" r="2.15"/><circle cx="713.18" cy="177.44" r="2.15"/><circle cx="716.44" cy="177.84" r="2.15"/><circle cx="719.70" cy="177.70" r="2.15"/><circle cx="722.96" cy="178.50" r="2.15"/><circle cx="726.22" cy="177.70" r="2.15"/><circle cx="729.48" cy="178.50" r="2.15"/><circle cx="732.74" cy="178.10" r="2.15"/><circle cx="736.00" cy="177.70" r="2.15"/><circle cx="739.26" cy="177.84" r="2.15"/><circle cx="742.52" cy="176.78" r="2.15"/><circle cx="745.78" cy="178.50" r="2.15"/><circle cx="749.04" cy="180.35" r="2.15"/><circle cx="752.30" cy="178.76" r="2.15"/></g>
<path d="M540.40 149.15V151.26M538.20 149.15h4.4M538.20 151.26h4.4M543.66 147.30V149.41M541.46 147.30h4.4M541.46 149.41h4.4M546.92 146.64V148.75M544.72 146.64h4.4M544.72 148.75h4.4M550.18 146.64V148.75M547.98 146.64h4.4M547.98 148.75h4.4M553.44 147.96V150.07M551.24 147.96h4.4M551.24 150.07h4.4M556.70 149.15V151.26M554.50 149.15h4.4M554.50 151.26h4.4M559.96 150.34V152.45M557.76 150.34h4.4M557.76 152.45h4.4M563.22 148.36V150.47M561.02 148.36h4.4M561.02 150.47h4.4M566.48 149.15V151.26M564.28 149.15h4.4M564.28 151.26h4.4M569.74 149.41V151.53M567.54 149.41h4.4M567.54 151.53h4.4M573.00 149.15V151.26M570.80 149.15h4.4M570.80 151.26h4.4M576.26 150.07V152.19M574.06 150.07h4.4M574.06 152.19h4.4M579.52 149.15V151.26M577.32 149.15h4.4M577.32 151.26h4.4M582.78 149.41V151.53M580.58 149.41h4.4M580.58 151.53h4.4M586.04 151.26V153.38M583.84 151.26h4.4M583.84 153.38h4.4M589.30 153.25V155.36M587.10 153.25h4.4M587.10 155.36h4.4M592.56 150.60V152.72M590.36 150.60h4.4M590.36 152.72h4.4M595.82 151.53V153.64M593.62 151.53h4.4M593.62 153.64h4.4M599.08 152.59V154.70M596.88 152.59h4.4M596.88 154.70h4.4M602.34 155.23V157.35M600.14 155.23h4.4M600.14 157.35h4.4M605.60 169.38V181.54M603.40 169.38h4.4M603.40 181.54h4.4M608.86 182.99V196.21M606.66 182.99h4.4M606.66 196.21h4.4M612.12 191.72V203.62M609.92 191.72h4.4M609.92 203.62h4.4M615.38 197.93V209.83M613.18 197.93h4.4M613.18 209.83h4.4M618.64 203.88V215.78M616.44 203.88h4.4M616.44 215.78h4.4M621.90 203.88V215.78M619.70 203.88h4.4M619.70 215.78h4.4M625.16 200.97V212.87M622.96 200.97h4.4M622.96 212.87h4.4M628.42 204.41V216.31M626.22 204.41h4.4M626.22 216.31h4.4M631.68 204.81V216.70M629.48 204.81h4.4M629.48 216.70h4.4M634.94 201.24V213.13M632.74 201.24h4.4M632.74 213.13h4.4M638.20 197.93V209.83M636.00 197.93h4.4M636.00 209.83h4.4M641.46 198.59V208.11M639.26 198.59h4.4M639.26 208.11h4.4M644.72 197.53V207.05M642.52 197.53h4.4M642.52 207.05h4.4M647.98 198.59V208.11M645.78 198.59h4.4M645.78 208.11h4.4M651.24 197.53V207.05M649.04 197.53h4.4M649.04 207.05h4.4M654.50 198.06V207.58M652.30 198.06h4.4M652.30 207.58h4.4M657.76 195.82V205.33M655.56 195.82h4.4M655.56 205.33h4.4M661.02 197.53V207.05M658.82 197.53h4.4M658.82 207.05h4.4M664.28 198.06V207.58M662.08 198.06h4.4M662.08 207.58h4.4M667.54 198.59V208.11M665.34 198.59h4.4M665.34 208.11h4.4M670.80 199.39V208.90M668.60 199.39h4.4M668.60 208.90h4.4M674.06 195.02V204.54M671.86 195.02h4.4M671.86 204.54h4.4M677.32 198.20V207.71M675.12 198.20h4.4M675.12 207.71h4.4M680.58 197.14V206.66M678.38 197.14h4.4M678.38 206.66h4.4M683.84 195.02V204.54M681.64 195.02h4.4M681.64 204.54h4.4M687.10 196.08V205.60M684.90 196.08h4.4M684.90 205.60h4.4M690.36 194.23V203.75M688.16 194.23h4.4M688.16 203.75h4.4M693.62 195.55V205.07M691.42 195.55h4.4M691.42 205.07h4.4M696.88 193.96V203.48M694.68 193.96h4.4M694.68 203.48h4.4M700.14 197.14V206.66M697.94 197.14h4.4M697.94 206.66h4.4M703.40 195.02V204.54M701.20 195.02h4.4M701.20 204.54h4.4M706.66 194.36V203.88M704.46 194.36h4.4M704.46 203.88h4.4M709.92 194.76V204.28M707.72 194.76h4.4M707.72 204.28h4.4M713.18 194.23V203.75M710.98 194.23h4.4M710.98 203.75h4.4M716.44 194.36V203.88M714.24 194.36h4.4M714.24 203.88h4.4M719.70 192.38V201.90M717.50 192.38h4.4M717.50 201.90h4.4M722.96 191.59V201.10M720.76 191.59h4.4M720.76 201.10h4.4M726.22 192.25V201.76M724.02 192.25h4.4M724.02 201.76h4.4M729.48 192.78V202.29M727.28 192.78h4.4M727.28 202.29h4.4M732.74 194.36V203.88M730.54 194.36h4.4M730.54 203.88h4.4M736.00 190.92V200.44M733.80 190.92h4.4M733.80 200.44h4.4M739.26 193.30V202.82M737.06 193.30h4.4M737.06 202.82h4.4M742.52 192.78V202.29M740.32 192.78h4.4M740.32 202.29h4.4M745.78 191.19V200.71M743.58 191.19h4.4M743.58 200.71h4.4M749.04 190.13V199.65M746.84 190.13h4.4M746.84 199.65h4.4M752.30 190.92V200.44M750.10 190.92h4.4M750.10 200.44h4.4" stroke="#3a3a3a" stroke-width="0.95" fill="none"/>
<g fill="#4a5ba6" stroke="#1a1a1a" stroke-width="0.9"><circle cx="540.40" cy="150.21" r="2.15"/><circle cx="543.66" cy="148.36" r="2.15"/><circle cx="546.92" cy="147.69" r="2.15"/><circle cx="550.18" cy="147.69" r="2.15"/><circle cx="553.44" cy="149.02" r="2.15"/><circle cx="556.70" cy="150.21" r="2.15"/><circle cx="559.96" cy="151.40" r="2.15"/><circle cx="563.22" cy="149.41" r="2.15"/><circle cx="566.48" cy="150.21" r="2.15"/><circle cx="569.74" cy="150.47" r="2.15"/><circle cx="573.00" cy="150.21" r="2.15"/><circle cx="576.26" cy="151.13" r="2.15"/><circle cx="579.52" cy="150.21" r="2.15"/><circle cx="582.78" cy="150.47" r="2.15"/><circle cx="586.04" cy="152.32" r="2.15"/><circle cx="589.30" cy="154.30" r="2.15"/><circle cx="592.56" cy="151.66" r="2.15"/><circle cx="595.82" cy="152.59" r="2.15"/><circle cx="599.08" cy="153.64" r="2.15"/><circle cx="602.34" cy="156.29" r="2.15"/><circle cx="605.60" cy="175.46" r="2.15"/><circle cx="608.86" cy="189.60" r="2.15"/><circle cx="612.12" cy="197.67" r="2.15"/><circle cx="615.38" cy="203.88" r="2.15"/><circle cx="618.64" cy="209.83" r="2.15"/><circle cx="621.90" cy="209.83" r="2.15"/><circle cx="625.16" cy="206.92" r="2.15"/><circle cx="628.42" cy="210.36" r="2.15"/><circle cx="631.68" cy="210.75" r="2.15"/><circle cx="634.94" cy="207.19" r="2.15"/><circle cx="638.20" cy="203.88" r="2.15"/><circle cx="641.46" cy="203.35" r="2.15"/><circle cx="644.72" cy="202.29" r="2.15"/><circle cx="647.98" cy="203.35" r="2.15"/><circle cx="651.24" cy="202.29" r="2.15"/><circle cx="654.50" cy="202.82" r="2.15"/><circle cx="657.76" cy="200.57" r="2.15"/><circle cx="661.02" cy="202.29" r="2.15"/><circle cx="664.28" cy="202.82" r="2.15"/><circle cx="667.54" cy="203.35" r="2.15"/><circle cx="670.80" cy="204.14" r="2.15"/><circle cx="674.06" cy="199.78" r="2.15"/><circle cx="677.32" cy="202.95" r="2.15"/><circle cx="680.58" cy="201.90" r="2.15"/><circle cx="683.84" cy="199.78" r="2.15"/><circle cx="687.10" cy="200.84" r="2.15"/><circle cx="690.36" cy="198.99" r="2.15"/><circle cx="693.62" cy="200.31" r="2.15"/><circle cx="696.88" cy="198.72" r="2.15"/><circle cx="700.14" cy="201.90" r="2.15"/><circle cx="703.40" cy="199.78" r="2.15"/><circle cx="706.66" cy="199.12" r="2.15"/><circle cx="709.92" cy="199.52" r="2.15"/><circle cx="713.18" cy="198.99" r="2.15"/><circle cx="716.44" cy="199.12" r="2.15"/><circle cx="719.70" cy="197.14" r="2.15"/><circle cx="722.96" cy="196.34" r="2.15"/><circle cx="726.22" cy="197.01" r="2.15"/><circle cx="729.48" cy="197.53" r="2.15"/><circle cx="732.74" cy="199.12" r="2.15"/><circle cx="736.00" cy="195.68" r="2.15"/><circle cx="739.26" cy="198.06" r="2.15"/><circle cx="742.52" cy="197.53" r="2.15"/><circle cx="745.78" cy="195.95" r="2.15"/><circle cx="749.04" cy="194.89" r="2.15"/><circle cx="752.30" cy="195.68" r="2.15"/></g>
<path d="M540.40 147.96V154.57M538.20 147.96h4.4M538.20 154.57h4.4M543.66 145.84V152.45M541.46 145.84h4.4M541.46 152.45h4.4M546.92 147.96V154.57M544.72 147.96h4.4M544.72 154.57h4.4M550.18 146.90V153.51M547.98 146.90h4.4M547.98 153.51h4.4M553.44 147.30V153.91M551.24 147.30h4.4M551.24 153.91h4.4M556.70 151.00V157.61M554.50 151.00h4.4M554.50 157.61h4.4M559.96 153.38V159.99M557.76 153.38h4.4M557.76 159.99h4.4M563.22 150.21V156.82M561.02 150.21h4.4M561.02 156.82h4.4M566.48 150.21V156.82M564.28 150.21h4.4M564.28 156.82h4.4M569.74 149.28V155.89M567.54 149.28h4.4M567.54 155.89h4.4M573.00 153.91V160.52M570.80 153.91h4.4M570.80 160.52h4.4M576.26 155.36V161.97M574.06 155.36h4.4M574.06 161.97h4.4M579.52 149.02V155.63M577.32 149.02h4.4M577.32 155.63h4.4M582.78 149.94V156.55M580.58 149.94h4.4M580.58 156.55h4.4M586.04 151.26V157.87M583.84 151.26h4.4M583.84 157.87h4.4M589.30 149.55V156.16M587.10 149.55h4.4M587.10 156.16h4.4M592.56 150.60V157.21M590.36 150.60h4.4M590.36 157.21h4.4M595.82 154.17V160.78M593.62 154.17h4.4M593.62 160.78h4.4M599.08 153.12V159.73M596.88 153.12h4.4M596.88 159.73h4.4M602.34 154.17V160.78M600.14 154.17h4.4M600.14 160.78h4.4M605.60 184.58V195.15M603.40 184.58h4.4M603.40 195.15h4.4M608.86 202.95V224.11M606.66 202.95h4.4M606.66 224.11h4.4M612.12 209.43V242.75M609.92 209.43h4.4M609.92 242.75h4.4M615.38 219.88V247.11M613.18 219.88h4.4M613.18 247.11h4.4M618.64 207.45V223.31M616.44 207.45h4.4M616.44 223.31h4.4M621.90 206.13V219.35M619.70 206.13h4.4M619.70 219.35h4.4M625.16 203.88V215.78M622.96 203.88h4.4M622.96 215.78h4.4M628.42 200.31V210.89M626.22 200.31h4.4M626.22 210.89h4.4M631.68 195.15V205.73M629.48 195.15h4.4M629.48 205.73h4.4M634.94 193.83V203.09M632.74 193.83h4.4M632.74 203.09h4.4M638.20 190.92V200.18M636.00 190.92h4.4M636.00 200.18h4.4M641.46 193.04V202.29M639.26 193.04h4.4M639.26 202.29h4.4M644.72 190.92V200.18M642.52 190.92h4.4M642.52 200.18h4.4M647.98 192.64V201.90M645.78 192.64h4.4M645.78 201.90h4.4M651.24 193.04V202.29M649.04 193.04h4.4M649.04 202.29h4.4M654.50 190.66V199.91M652.30 190.66h4.4M652.30 199.91h4.4M657.76 187.09V196.34M655.56 187.09h4.4M655.56 196.34h4.4M661.02 189.47V198.72M658.82 189.47h4.4M658.82 198.72h4.4M664.28 189.47V198.72M662.08 189.47h4.4M662.08 198.72h4.4M667.54 190.00V199.25M665.34 190.00h4.4M665.34 199.25h4.4M670.80 191.19V200.44M668.60 191.19h4.4M668.60 200.44h4.4M674.06 189.47V198.72M671.86 189.47h4.4M671.86 198.72h4.4M677.32 192.38V201.63M675.12 192.38h4.4M675.12 201.63h4.4M680.58 190.66V199.91M678.38 190.66h4.4M678.38 199.91h4.4M683.84 191.85V201.10M681.64 191.85h4.4M681.64 201.10h4.4M687.10 190.40V199.65M684.90 190.40h4.4M684.90 199.65h4.4M690.36 192.64V201.90M688.16 192.64h4.4M688.16 201.90h4.4M693.62 193.96V203.22M691.42 193.96h4.4M691.42 203.22h4.4M696.88 193.57V202.82M694.68 193.57h4.4M694.68 202.82h4.4M700.14 193.57V202.82M697.94 193.57h4.4M697.94 202.82h4.4M703.40 194.76V204.01M701.20 194.76h4.4M701.20 204.01h4.4M706.66 193.96V203.22M704.46 193.96h4.4M704.46 203.22h4.4M709.92 193.04V202.29M707.72 193.04h4.4M707.72 202.29h4.4M713.18 195.95V205.20M710.98 195.95h4.4M710.98 205.20h4.4M716.44 195.15V204.41M714.24 195.15h4.4M714.24 204.41h4.4M719.70 193.17V202.43M717.50 193.17h4.4M717.50 202.43h4.4M722.96 190.66V199.91M720.76 190.66h4.4M720.76 199.91h4.4M726.22 193.04V202.29M724.02 193.04h4.4M724.02 202.29h4.4M729.48 193.04V202.29M727.28 193.04h4.4M727.28 202.29h4.4M732.74 193.57V202.82M730.54 193.57h4.4M730.54 202.82h4.4M736.00 196.74V206.00M733.80 196.74h4.4M733.80 206.00h4.4M739.26 197.14V206.39M737.06 197.14h4.4M737.06 206.39h4.4M742.52 198.20V207.45M740.32 198.20h4.4M740.32 207.45h4.4M745.78 197.14V206.39M743.58 197.14h4.4M743.58 206.39h4.4M749.04 195.95V205.20M746.84 195.95h4.4M746.84 205.20h4.4M752.30 197.14V206.39M750.10 197.14h4.4M750.10 206.39h4.4" stroke="#3a3a3a" stroke-width="0.95" fill="none"/>
<g fill="#97c550" stroke="#1a1a1a" stroke-width="0.9"><circle cx="540.40" cy="151.26" r="2.15"/><circle cx="543.66" cy="149.15" r="2.15"/><circle cx="546.92" cy="151.26" r="2.15"/><circle cx="550.18" cy="150.21" r="2.15"/><circle cx="553.44" cy="150.60" r="2.15"/><circle cx="556.70" cy="154.30" r="2.15"/><circle cx="559.96" cy="156.68" r="2.15"/><circle cx="563.22" cy="153.51" r="2.15"/><circle cx="566.48" cy="153.51" r="2.15"/><circle cx="569.74" cy="152.59" r="2.15"/><circle cx="573.00" cy="157.21" r="2.15"/><circle cx="576.26" cy="158.67" r="2.15"/><circle cx="579.52" cy="152.32" r="2.15"/><circle cx="582.78" cy="153.25" r="2.15"/><circle cx="586.04" cy="154.57" r="2.15"/><circle cx="589.30" cy="152.85" r="2.15"/><circle cx="592.56" cy="153.91" r="2.15"/><circle cx="595.82" cy="157.48" r="2.15"/><circle cx="599.08" cy="156.42" r="2.15"/><circle cx="602.34" cy="157.48" r="2.15"/><circle cx="605.60" cy="189.87" r="2.15"/><circle cx="608.86" cy="213.53" r="2.15"/><circle cx="612.12" cy="226.09" r="2.15"/><circle cx="615.38" cy="233.49" r="2.15"/><circle cx="618.64" cy="215.38" r="2.15"/><circle cx="621.90" cy="212.74" r="2.15"/><circle cx="625.16" cy="209.83" r="2.15"/><circle cx="628.42" cy="205.60" r="2.15"/><circle cx="631.68" cy="200.44" r="2.15"/><circle cx="634.94" cy="198.46" r="2.15"/><circle cx="638.20" cy="195.55" r="2.15"/><circle cx="641.46" cy="197.67" r="2.15"/><circle cx="644.72" cy="195.55" r="2.15"/><circle cx="647.98" cy="197.27" r="2.15"/><circle cx="651.24" cy="197.67" r="2.15"/><circle cx="654.50" cy="195.29" r="2.15"/><circle cx="657.76" cy="191.72" r="2.15"/><circle cx="661.02" cy="194.10" r="2.15"/><circle cx="664.28" cy="194.10" r="2.15"/><circle cx="667.54" cy="194.63" r="2.15"/><circle cx="670.80" cy="195.82" r="2.15"/><circle cx="674.06" cy="194.10" r="2.15"/><circle cx="677.32" cy="197.01" r="2.15"/><circle cx="680.58" cy="195.29" r="2.15"/><circle cx="683.84" cy="196.48" r="2.15"/><circle cx="687.10" cy="195.02" r="2.15"/><circle cx="690.36" cy="197.27" r="2.15"/><circle cx="693.62" cy="198.59" r="2.15"/><circle cx="696.88" cy="198.20" r="2.15"/><circle cx="700.14" cy="198.20" r="2.15"/><circle cx="703.40" cy="199.39" r="2.15"/><circle cx="706.66" cy="198.59" r="2.15"/><circle cx="709.92" cy="197.67" r="2.15"/><circle cx="713.18" cy="200.57" r="2.15"/><circle cx="716.44" cy="199.78" r="2.15"/><circle cx="719.70" cy="197.80" r="2.15"/><circle cx="722.96" cy="195.29" r="2.15"/><circle cx="726.22" cy="197.67" r="2.15"/><circle cx="729.48" cy="197.67" r="2.15"/><circle cx="732.74" cy="198.20" r="2.15"/><circle cx="736.00" cy="201.37" r="2.15"/><circle cx="739.26" cy="201.76" r="2.15"/><circle cx="742.52" cy="202.82" r="2.15"/><circle cx="745.78" cy="201.76" r="2.15"/><circle cx="749.04" cy="200.57" r="2.15"/><circle cx="752.30" cy="201.76" r="2.15"/></g>
<text x="0" y="0" font-size="8.8" style="stroke-width:0.06px" text-anchor="middle" textLength="114.3" lengthAdjust="spacingAndGlyphs" transform="translate(7.7 216.7) rotate(-90)">fEPSP Slope (% Baseline)</text>
<text x="0" y="0" font-size="8.8" style="stroke-width:0.06px" text-anchor="middle" textLength="114.4" lengthAdjust="spacingAndGlyphs" transform="translate(262.0 216.8) rotate(-90)">fEPSP Slope (% Baseline)</text>
<text x="0" y="0" font-size="8.8" style="stroke-width:0.06px" text-anchor="middle" textLength="113.4" lengthAdjust="spacingAndGlyphs" transform="translate(520.2 215.8) rotate(-90)">fEPSP Slope (% Baseline)</text>
<text x="111.3" y="315.0" font-size="12.6" text-anchor="start" textLength="57.1" lengthAdjust="spacingAndGlyphs" style="stroke-width:0.08px">Time (min)</text>
<text x="366.5" y="315.0" font-size="12.6" text-anchor="start" textLength="56.8" lengthAdjust="spacingAndGlyphs" style="stroke-width:0.08px">Time (min)</text>
<text x="627.8" y="315.0" font-size="12.6" text-anchor="start" textLength="56.8" lengthAdjust="spacingAndGlyphs" style="stroke-width:0.08px">Time (min)</text>
<text x="52.9" y="323.8" font-size="8.5" style="stroke-width:0;fill:#333" textLength="63.7" lengthAdjust="spacingAndGlyphs">50 μM (<tspan font-style="italic">S</tspan>)-DHPG</text>
<path d="M72.2 329H90.6M72.2 326.5V331.5M90.6 326.5V331.5" stroke="#404040" stroke-width="1" fill="none"/>
<text x="308.4" y="325" font-size="8.5" style="stroke-width:0;fill:#333" textLength="63.7" lengthAdjust="spacingAndGlyphs">50 μM (<tspan font-style="italic">S</tspan>)-DHPG</text>
<path d="M327.7 329.8H345.6M327.7 327.3V332.3M345.6 327.3V332.3" stroke="#404040" stroke-width="1" fill="none"/>
<text x="569.3" y="325" font-size="8.5" style="stroke-width:0;fill:#333" textLength="63.7" lengthAdjust="spacingAndGlyphs">50 μM (<tspan font-style="italic">S</tspan>)-DHPG</text>
<path d="M588.3 330.2H606.5M588.3 327.7V332.7M606.5 327.7V332.7" stroke="#404040" stroke-width="1" fill="none"/>
<text x="430.1" y="333.5" font-size="8.5" text-anchor="start" textLength="47.5" lengthAdjust="spacingAndGlyphs" style="stroke-width:0;fill:#333">1.65 μM TSA</text>
<path d="M280 337.4H497.4M280 334.4V341.4M497.4 334.4V341.4" stroke="#444" stroke-width="1" fill="none"/>
<text x="691" y="333.5" font-size="8.5" text-anchor="start" textLength="48.3" lengthAdjust="spacingAndGlyphs" style="stroke-width:0;fill:#333">1.65 μM TSA</text>
<path d="M540.7 337.6H758M540.7 334.6V341.6M758 334.6V341.6" stroke="#444" stroke-width="1" fill="none"/>
</svg></body></html>
